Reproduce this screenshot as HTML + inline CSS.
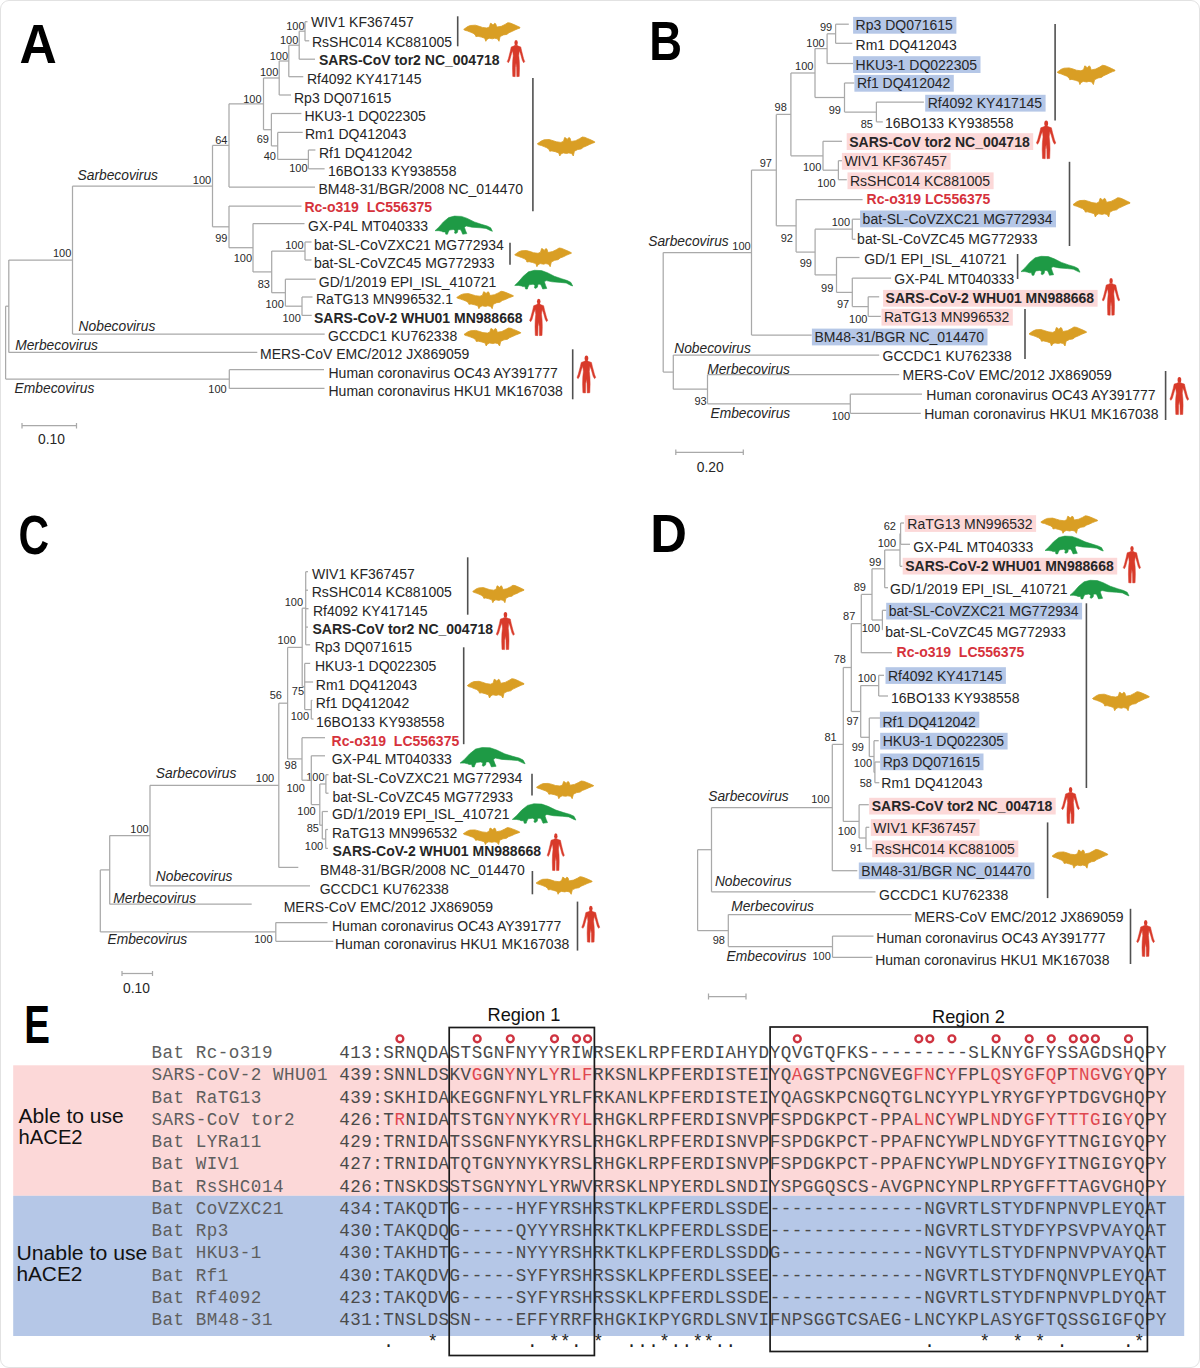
<!DOCTYPE html>
<html><head><meta charset="utf-8"><style>
html,body{margin:0;padding:0;background:#fff;}
body{width:1200px;height:1368px;overflow:hidden;position:relative;font-family:"Liberation Sans",sans-serif;}
#frame{position:absolute;left:0;top:0;width:1198px;height:1366px;border:1px solid #e2e2e2;border-radius:9px;}
svg{position:absolute;left:0;top:0;}
.mono{font-family:"Liberation Mono",monospace;}
</style></head><body><div id="frame"></div>
<svg width="1200" height="1368" viewBox="0 0 1200 1368" font-family="Liberation Sans, sans-serif">
<line x1="305.0" y1="21.7" x2="307.5" y2="21.7" stroke="#a9a9a9" stroke-width="1.25"/>
<line x1="305.0" y1="40.8" x2="309.2" y2="40.8" stroke="#a9a9a9" stroke-width="1.25"/>
<line x1="305.0" y1="21.7" x2="305.0" y2="40.8" stroke="#a9a9a9" stroke-width="1.25"/>
<text x="304.6" y="30.4" font-size="11" fill="#2a2a2a" text-anchor="end">100</text>
<line x1="299.2" y1="31.2" x2="305.0" y2="31.2" stroke="#a9a9a9" stroke-width="1.25"/>
<line x1="299.2" y1="59.2" x2="315.0" y2="59.2" stroke="#a9a9a9" stroke-width="1.25"/>
<line x1="299.2" y1="31.2" x2="299.2" y2="59.2" stroke="#a9a9a9" stroke-width="1.25"/>
<text x="298.3" y="43.8" font-size="11" fill="#2a2a2a" text-anchor="end">100</text>
<line x1="288.8" y1="45.2" x2="299.2" y2="45.2" stroke="#a9a9a9" stroke-width="1.25"/>
<line x1="288.8" y1="76.7" x2="303.3" y2="76.7" stroke="#a9a9a9" stroke-width="1.25"/>
<line x1="288.8" y1="45.2" x2="288.8" y2="76.7" stroke="#a9a9a9" stroke-width="1.25"/>
<text x="288.0" y="59.6" font-size="11" fill="#2a2a2a" text-anchor="end">100</text>
<line x1="279.2" y1="61.0" x2="288.8" y2="61.0" stroke="#a9a9a9" stroke-width="1.25"/>
<line x1="279.2" y1="95.0" x2="291.0" y2="95.0" stroke="#a9a9a9" stroke-width="1.25"/>
<line x1="279.2" y1="61.0" x2="279.2" y2="95.0" stroke="#a9a9a9" stroke-width="1.25"/>
<text x="278.3" y="76.2" font-size="11" fill="#2a2a2a" text-anchor="end">100</text>
<line x1="263.5" y1="78.0" x2="279.2" y2="78.0" stroke="#a9a9a9" stroke-width="1.25"/>
<line x1="271.4" y1="113.5" x2="301.4" y2="113.5" stroke="#a9a9a9" stroke-width="1.25"/>
<line x1="277.7" y1="132.4" x2="302.7" y2="132.4" stroke="#a9a9a9" stroke-width="1.25"/>
<line x1="308.4" y1="150.0" x2="315.4" y2="150.0" stroke="#a9a9a9" stroke-width="1.25"/>
<line x1="308.4" y1="168.8" x2="324.6" y2="168.8" stroke="#a9a9a9" stroke-width="1.25"/>
<line x1="308.4" y1="150.0" x2="308.4" y2="168.8" stroke="#a9a9a9" stroke-width="1.25"/>
<text x="307.5" y="172.3" font-size="11" fill="#2a2a2a" text-anchor="end">100</text>
<line x1="277.7" y1="159.4" x2="308.4" y2="159.4" stroke="#a9a9a9" stroke-width="1.25"/>
<line x1="277.7" y1="132.4" x2="277.7" y2="159.4" stroke="#a9a9a9" stroke-width="1.25"/>
<text x="276.0" y="159.6" font-size="11" fill="#2a2a2a" text-anchor="end">40</text>
<line x1="271.4" y1="145.9" x2="277.7" y2="145.9" stroke="#a9a9a9" stroke-width="1.25"/>
<line x1="271.4" y1="113.5" x2="271.4" y2="145.9" stroke="#a9a9a9" stroke-width="1.25"/>
<text x="269.0" y="142.9" font-size="11" fill="#2a2a2a" text-anchor="end">69</text>
<line x1="263.5" y1="129.7" x2="271.4" y2="129.7" stroke="#a9a9a9" stroke-width="1.25"/>
<line x1="263.5" y1="78.0" x2="263.5" y2="129.7" stroke="#a9a9a9" stroke-width="1.25"/>
<text x="261.5" y="102.5" font-size="11" fill="#2a2a2a" text-anchor="end">100</text>
<line x1="229.0" y1="103.8" x2="263.5" y2="103.8" stroke="#a9a9a9" stroke-width="1.25"/>
<line x1="229.0" y1="187.0" x2="315.0" y2="187.0" stroke="#a9a9a9" stroke-width="1.25"/>
<line x1="229.0" y1="103.8" x2="229.0" y2="187.0" stroke="#a9a9a9" stroke-width="1.25"/>
<text x="227.5" y="143.8" font-size="11" fill="#2a2a2a" text-anchor="end">64</text>
<line x1="212.5" y1="145.4" x2="229.0" y2="145.4" stroke="#a9a9a9" stroke-width="1.25"/>
<line x1="229.0" y1="206.0" x2="301.5" y2="206.0" stroke="#a9a9a9" stroke-width="1.25"/>
<line x1="253.0" y1="223.5" x2="304.5" y2="223.5" stroke="#a9a9a9" stroke-width="1.25"/>
<line x1="305.0" y1="242.0" x2="311.5" y2="242.0" stroke="#a9a9a9" stroke-width="1.25"/>
<line x1="305.0" y1="260.0" x2="311.5" y2="260.0" stroke="#a9a9a9" stroke-width="1.25"/>
<line x1="305.0" y1="242.0" x2="305.0" y2="260.0" stroke="#a9a9a9" stroke-width="1.25"/>
<text x="303.5" y="248.5" font-size="11" fill="#2a2a2a" text-anchor="end">100</text>
<line x1="271.7" y1="251.0" x2="305.0" y2="251.0" stroke="#a9a9a9" stroke-width="1.25"/>
<line x1="285.4" y1="279.2" x2="315.8" y2="279.2" stroke="#a9a9a9" stroke-width="1.25"/>
<line x1="302.0" y1="297.0" x2="312.5" y2="297.0" stroke="#a9a9a9" stroke-width="1.25"/>
<line x1="302.0" y1="315.4" x2="311.7" y2="315.4" stroke="#a9a9a9" stroke-width="1.25"/>
<line x1="302.0" y1="297.0" x2="302.0" y2="315.4" stroke="#a9a9a9" stroke-width="1.25"/>
<text x="300.8" y="322.0" font-size="11" fill="#2a2a2a" text-anchor="end">100</text>
<line x1="285.4" y1="306.2" x2="302.0" y2="306.2" stroke="#a9a9a9" stroke-width="1.25"/>
<line x1="285.4" y1="279.2" x2="285.4" y2="306.2" stroke="#a9a9a9" stroke-width="1.25"/>
<text x="283.8" y="307.5" font-size="11" fill="#2a2a2a" text-anchor="end">100</text>
<line x1="271.7" y1="292.7" x2="285.4" y2="292.7" stroke="#a9a9a9" stroke-width="1.25"/>
<line x1="271.7" y1="251.0" x2="271.7" y2="292.7" stroke="#a9a9a9" stroke-width="1.25"/>
<text x="270.0" y="287.5" font-size="11" fill="#2a2a2a" text-anchor="end">83</text>
<line x1="253.0" y1="271.9" x2="271.7" y2="271.9" stroke="#a9a9a9" stroke-width="1.25"/>
<line x1="253.0" y1="223.5" x2="253.0" y2="271.9" stroke="#a9a9a9" stroke-width="1.25"/>
<text x="252.0" y="262.0" font-size="11" fill="#2a2a2a" text-anchor="end">100</text>
<line x1="229.0" y1="247.7" x2="253.0" y2="247.7" stroke="#a9a9a9" stroke-width="1.25"/>
<line x1="229.0" y1="206.0" x2="229.0" y2="247.7" stroke="#a9a9a9" stroke-width="1.25"/>
<text x="227.5" y="242.0" font-size="11" fill="#2a2a2a" text-anchor="end">99</text>
<line x1="212.5" y1="226.8" x2="229.0" y2="226.8" stroke="#a9a9a9" stroke-width="1.25"/>
<line x1="212.5" y1="145.4" x2="212.5" y2="226.8" stroke="#a9a9a9" stroke-width="1.25"/>
<text x="211.2" y="183.8" font-size="11" fill="#2a2a2a" text-anchor="end">100</text>
<line x1="72.5" y1="186.1" x2="212.5" y2="186.1" stroke="#a9a9a9" stroke-width="1.25"/>
<line x1="72.5" y1="334.0" x2="324.7" y2="334.0" stroke="#a9a9a9" stroke-width="1.25"/>
<line x1="72.5" y1="186.1" x2="72.5" y2="334.0" stroke="#a9a9a9" stroke-width="1.25"/>
<text x="71.3" y="257.0" font-size="11" fill="#2a2a2a" text-anchor="end">100</text>
<line x1="8.8" y1="260.1" x2="72.5" y2="260.1" stroke="#a9a9a9" stroke-width="1.25"/>
<line x1="8.8" y1="352.4" x2="257.3" y2="352.4" stroke="#a9a9a9" stroke-width="1.25"/>
<line x1="8.8" y1="260.1" x2="8.8" y2="352.4" stroke="#a9a9a9" stroke-width="1.25"/>
<line x1="5.6" y1="306.2" x2="8.8" y2="306.2" stroke="#a9a9a9" stroke-width="1.25"/>
<line x1="229.3" y1="369.7" x2="324.0" y2="369.7" stroke="#a9a9a9" stroke-width="1.25"/>
<line x1="229.3" y1="388.4" x2="324.5" y2="388.4" stroke="#a9a9a9" stroke-width="1.25"/>
<line x1="229.3" y1="369.7" x2="229.3" y2="388.4" stroke="#a9a9a9" stroke-width="1.25"/>
<text x="226.7" y="392.7" font-size="11" fill="#2a2a2a" text-anchor="end">100</text>
<line x1="5.6" y1="379.0" x2="229.3" y2="379.0" stroke="#a9a9a9" stroke-width="1.25"/>
<line x1="5.6" y1="306.2" x2="5.6" y2="379.0" stroke="#a9a9a9" stroke-width="1.25"/>
<text x="311.0" y="27.2" font-size="14" fill="#262626">WIV1 KF367457</text>
<text x="312.0" y="46.7" font-size="14" fill="#262626">RsSHC014 KC881005</text>
<text x="319.0" y="64.5" font-size="14" fill="#262626" font-weight="bold">SARS-CoV tor2 NC_004718</text>
<text x="307.0" y="84.2" font-size="14" fill="#262626">Rf4092 KY417145</text>
<text x="294.0" y="102.5" font-size="14" fill="#262626">Rp3 DQ071615</text>
<text x="304.5" y="120.8" font-size="14" fill="#262626">HKU3-1 DQ022305</text>
<text x="305.0" y="139.2" font-size="14" fill="#262626">Rm1 DQ412043</text>
<text x="319.0" y="157.5" font-size="14" fill="#262626">Rf1 DQ412042</text>
<text x="328.0" y="175.8" font-size="14" fill="#262626">16BO133 KY938558</text>
<text x="318.4" y="194.4" font-size="14" fill="#262626">BM48-31/BGR/2008 NC_014470</text>
<text x="304.4" y="211.6" font-size="14" fill="#d6323c" font-weight="bold" xml:space="preserve">Rc-o319  LC556375</text>
<text x="308.0" y="231.0" font-size="14" fill="#262626">GX-P4L MT040333</text>
<text x="314.0" y="250.0" font-size="14" fill="#262626">bat-SL-CoVZXC21 MG772934</text>
<text x="314.0" y="267.5" font-size="14" fill="#262626">bat-SL-CoVZC45 MG772933</text>
<text x="318.8" y="286.9" font-size="14" fill="#262626">GD/1/2019 EPI_ISL_410721</text>
<text x="316.0" y="304.4" font-size="14" fill="#262626">RaTG13 MN996532.1</text>
<text x="314.0" y="322.5" font-size="14" fill="#262626" font-weight="bold">SARS-CoV-2 WHU01 MN988668</text>
<text x="328.0" y="340.6" font-size="14" fill="#262626">GCCDC1 KU762338</text>
<text x="260.0" y="359.4" font-size="14" fill="#262626">MERS-CoV EMC/2012 JX869059</text>
<text x="328.5" y="378.1" font-size="14" fill="#262626">Human coronavirus OC43 AY391777</text>
<text x="328.5" y="396.3" font-size="14" fill="#262626">Human coronavirus HKU1 MK167038</text>
<text x="77.5" y="179.5" font-size="13.8" fill="#262626" font-style="italic">Sarbecovirus</text>
<text x="78.6" y="330.6" font-size="13.8" fill="#262626" font-style="italic">Nobecovirus</text>
<text x="15.2" y="350.0" font-size="13.8" fill="#262626" font-style="italic">Merbecovirus</text>
<text x="14.6" y="392.6" font-size="13.8" fill="#262626" font-style="italic">Embecovirus</text>
<line x1="22.0" y1="425.7" x2="76.5" y2="425.7" stroke="#a9a9a9" stroke-width="1.25"/>
<line x1="22.0" y1="423.0" x2="22.0" y2="428.5" stroke="#a9a9a9" stroke-width="1.25"/>
<line x1="76.5" y1="423.0" x2="76.5" y2="428.5" stroke="#a9a9a9" stroke-width="1.25"/>
<text x="51.5" y="443.5" font-size="13.8" fill="#262626" text-anchor="middle">0.10</text>
<line x1="457.7" y1="16.3" x2="457.7" y2="46.3" stroke="#505050" stroke-width="1.6"/>
<line x1="532.9" y1="78.0" x2="532.9" y2="211.3" stroke="#505050" stroke-width="1.6"/>
<line x1="510.0" y1="242.7" x2="510.0" y2="264.7" stroke="#505050" stroke-width="1.6"/>
<line x1="572.7" y1="349.3" x2="572.7" y2="399.3" stroke="#505050" stroke-width="1.6"/>
<polygon points="463.7,29.4 467.6,26.6 470.3,25.5 475.3,25.2 479.2,26.3 482.4,27.4 486.9,28.0 489.4,26.9 490.4,23.3 491.8,23.8 493.0,25.2 494.6,23.3 495.7,23.8 496.8,27.1 501.3,26.3 505.1,24.4 507.8,22.7 510.1,23.0 512.8,24.1 516.7,25.8 520.0,27.4 520.0,28.0 517.8,28.8 515.0,29.9 512.3,31.3 509.0,32.7 506.8,34.4 503.4,34.9 500.1,36.6 499.0,41.3 497.4,38.8 494.6,38.2 492.4,38.8 489.1,38.2 486.9,39.4 485.8,41.3 484.7,38.2 481.4,37.1 478.1,36.3 475.9,36.6 475.3,34.9 473.1,33.2 470.3,32.1 467.6,31.0 464.8,30.2" fill="#d99e24" stroke="#d99e24" stroke-width="0.8" stroke-linejoin="round"/>
<polygon points="513.66,46.10 511.23,46.94 510.33,51.10 508.44,58.50 507.27,61.64 508.35,62.76 509.61,60.53 511.50,53.69 512.76,50.64 513.21,55.73 512.67,61.28 512.49,67.75 512.76,76.44 515.19,76.63 515.37,67.75 516.00,63.12 516.63,67.75 516.81,76.63 519.24,76.44 519.51,67.75 519.33,61.28 518.79,55.73 519.24,50.64 520.50,53.69 522.39,60.53 523.65,62.76 524.73,61.64 523.56,58.50 521.67,51.10 520.77,46.94 518.34,46.10 517.08,45.37 514.92,45.37" fill="#d83a2a" stroke="#d83a2a" stroke-width="0.5" stroke-linejoin="round"/>
<ellipse cx="516.09" cy="42.87" rx="1.71" ry="2.78" fill="#d83a2a"/>
<polygon points="537.3,143.8 541.3,141.0 544.1,139.8 549.1,139.5 553.1,140.7 556.4,141.8 560.9,142.4 563.5,141.3 564.6,137.6 566.0,138.1 567.1,139.5 568.8,137.6 570.0,138.1 571.1,141.5 575.6,140.7 579.5,138.7 582.3,137.0 584.6,137.3 587.4,138.4 591.3,140.1 594.7,141.8 594.7,142.4 592.5,143.2 589.6,144.4 586.8,145.8 583.4,147.2 581.2,148.9 577.8,149.5 574.4,151.2 573.3,156.0 571.6,153.5 568.8,152.9 566.6,153.5 563.2,152.9 560.9,154.0 559.8,156.0 558.7,152.9 555.3,151.7 551.9,150.9 549.7,151.2 549.1,149.5 546.9,147.8 544.1,146.6 541.3,145.5 538.4,144.7" fill="#d99e24" stroke="#d99e24" stroke-width="0.8" stroke-linejoin="round"/>
<polygon points="435.0,230.7 438.8,227.2 443.4,221.9 448.7,217.6 454.5,216.1 461.5,216.4 467.3,218.4 474.3,221.9 481.3,224.3 487.2,226.0 490.7,227.8 492.4,231.3 490.7,230.7 486.0,228.4 480.2,227.8 472.0,227.2 466.2,226.0 464.4,227.2 465.6,230.7 466.8,233.6 462.7,234.2 461.5,231.3 460.3,229.5 458.0,229.5 457.4,232.5 455.7,233.6 454.5,233.0 455.1,230.7 453.4,229.5 449.3,230.1 448.1,232.5 447.5,234.2 445.8,234.2 445.2,231.9 442.9,231.9 441.7,231.3 438.8,230.7" fill="#1e9a45" stroke="#1e9a45" stroke-width="0.6" stroke-linejoin="round"/>
<polygon points="514.7,254.7 518.6,251.9 521.4,250.8 526.4,250.5 530.3,251.6 533.5,252.7 538.0,253.3 540.5,252.2 541.6,248.6 543.0,249.1 544.1,250.5 545.8,248.6 546.9,249.1 548.0,252.5 552.5,251.6 556.3,249.7 559.1,248.0 561.3,248.3 564.1,249.4 568.0,251.1 571.3,252.7 571.3,253.3 569.1,254.1 566.3,255.3 563.5,256.7 560.2,258.0 558.0,259.7 554.7,260.3 551.3,262.0 550.2,266.7 548.5,264.2 545.8,263.6 543.6,264.2 540.2,263.6 538.0,264.8 536.9,266.7 535.8,263.6 532.5,262.5 529.1,261.7 526.9,262.0 526.4,260.3 524.2,258.6 521.4,257.5 518.6,256.4 515.8,255.5" fill="#d99e24" stroke="#d99e24" stroke-width="0.8" stroke-linejoin="round"/>
<polygon points="514.7,285.4 518.5,281.8 523.2,276.3 528.5,271.8 534.4,270.3 541.5,270.6 547.4,272.7 554.4,276.3 561.5,278.7 567.4,280.6 570.9,282.4 572.7,286.0 570.9,285.4 566.2,283.0 560.3,282.4 552.1,281.8 546.2,280.6 544.4,281.8 545.6,285.4 546.8,288.4 542.7,289.0 541.5,286.0 540.3,284.2 538.0,284.2 537.4,287.2 535.6,288.4 534.4,287.8 535.0,285.4 533.2,284.2 529.1,284.8 527.9,287.2 527.4,289.0 525.6,289.0 525.0,286.6 522.6,286.6 521.5,286.0 518.5,285.4" fill="#1e9a45" stroke="#1e9a45" stroke-width="0.6" stroke-linejoin="round"/>
<polygon points="456.7,297.5 460.6,294.9 463.4,293.9 468.4,293.6 472.3,294.7 475.5,295.7 480.0,296.2 482.5,295.2 483.6,291.8 485.0,292.3 486.1,293.6 487.8,291.8 488.9,292.3 490.0,295.5 494.5,294.7 498.3,292.9 501.1,291.3 503.3,291.6 506.1,292.6 510.0,294.2 513.3,295.7 513.3,296.2 511.1,297.0 508.3,298.1 505.5,299.4 502.2,300.6 500.0,302.2 496.7,302.7 493.3,304.3 492.2,308.7 490.5,306.4 487.8,305.8 485.6,306.4 482.2,305.8 480.0,306.9 478.9,308.7 477.8,305.8 474.5,304.8 471.1,304.0 468.9,304.3 468.4,302.7 466.2,301.2 463.4,300.1 460.6,299.1 457.8,298.3" fill="#d99e24" stroke="#d99e24" stroke-width="0.8" stroke-linejoin="round"/>
<polygon points="536.22,304.85 533.69,305.69 532.76,309.89 530.80,317.35 529.58,320.52 530.70,321.64 532.01,319.40 533.97,312.50 535.28,309.42 535.75,314.55 535.19,320.15 535.00,326.68 535.28,335.44 537.81,335.63 538.00,326.68 538.65,322.01 539.30,326.68 539.49,335.63 542.02,335.44 542.30,326.68 542.11,320.15 541.55,314.55 542.02,309.42 543.32,312.50 545.29,319.40 546.60,321.64 547.72,320.52 546.50,317.35 544.54,309.89 543.61,305.69 541.08,304.85 539.77,304.11 537.53,304.11" fill="#d83a2a" stroke="#d83a2a" stroke-width="0.5" stroke-linejoin="round"/>
<ellipse cx="538.74" cy="301.59" rx="1.78" ry="2.80" fill="#d83a2a"/>
<polygon points="464.0,334.4 467.9,331.8 470.7,330.7 475.7,330.4 479.6,331.5 482.9,332.6 487.4,333.1 489.9,332.0 490.9,328.5 492.4,329.1 493.5,330.4 495.1,328.5 496.3,329.1 497.3,332.3 501.8,331.5 505.7,329.6 508.5,328.0 510.7,328.3 513.5,329.4 517.4,331.0 520.7,332.6 520.7,333.1 518.5,333.9 515.7,335.0 512.9,336.3 509.6,337.7 507.4,339.3 504.0,339.8 500.7,341.4 499.6,346.0 497.9,343.6 495.1,343.0 492.9,343.6 489.6,343.0 487.4,344.1 486.2,346.0 485.1,343.0 481.8,342.0 478.5,341.2 476.2,341.4 475.7,339.8 473.5,338.2 470.7,337.1 467.9,336.1 465.1,335.3" fill="#d99e24" stroke="#d99e24" stroke-width="0.8" stroke-linejoin="round"/>
<polygon points="583.84,361.57 581.24,362.43 580.27,366.70 578.24,374.30 576.99,377.53 578.15,378.67 579.50,376.39 581.53,369.36 582.88,366.23 583.36,371.45 582.78,377.15 582.59,383.80 582.88,392.73 585.48,392.92 585.67,383.80 586.35,379.05 587.03,383.80 587.22,392.92 589.82,392.73 590.11,383.80 589.92,377.15 589.34,371.45 589.82,366.23 591.18,369.36 593.20,376.39 594.55,378.67 595.71,377.53 594.46,374.30 592.43,366.70 591.46,362.43 588.86,361.57 587.51,360.81 585.19,360.81" fill="#d83a2a" stroke="#d83a2a" stroke-width="0.5" stroke-linejoin="round"/>
<ellipse cx="586.45" cy="358.25" rx="1.83" ry="2.85" fill="#d83a2a"/>
<line x1="835.6" y1="24.2" x2="848.8" y2="24.2" stroke="#a9a9a9" stroke-width="1.25"/>
<line x1="835.6" y1="43.3" x2="852.3" y2="43.3" stroke="#a9a9a9" stroke-width="1.25"/>
<line x1="835.6" y1="24.2" x2="835.6" y2="43.3" stroke="#a9a9a9" stroke-width="1.25"/>
<text x="832.2" y="31.2" font-size="11" fill="#2a2a2a" text-anchor="end">99</text>
<line x1="827.1" y1="33.8" x2="835.6" y2="33.8" stroke="#a9a9a9" stroke-width="1.25"/>
<line x1="827.1" y1="63.5" x2="853.0" y2="63.5" stroke="#a9a9a9" stroke-width="1.25"/>
<line x1="827.1" y1="33.8" x2="827.1" y2="63.5" stroke="#a9a9a9" stroke-width="1.25"/>
<text x="824.7" y="46.5" font-size="11" fill="#2a2a2a" text-anchor="end">100</text>
<line x1="815.0" y1="48.6" x2="827.1" y2="48.6" stroke="#a9a9a9" stroke-width="1.25"/>
<line x1="844.5" y1="83.0" x2="854.4" y2="83.0" stroke="#a9a9a9" stroke-width="1.25"/>
<line x1="876.4" y1="102.0" x2="923.9" y2="102.0" stroke="#a9a9a9" stroke-width="1.25"/>
<line x1="876.4" y1="121.9" x2="882.8" y2="121.9" stroke="#a9a9a9" stroke-width="1.25"/>
<line x1="876.4" y1="102.0" x2="876.4" y2="121.9" stroke="#a9a9a9" stroke-width="1.25"/>
<text x="872.9" y="128.3" font-size="11" fill="#2a2a2a" text-anchor="end">85</text>
<line x1="844.5" y1="112.0" x2="876.4" y2="112.0" stroke="#a9a9a9" stroke-width="1.25"/>
<line x1="844.5" y1="83.0" x2="844.5" y2="112.0" stroke="#a9a9a9" stroke-width="1.25"/>
<text x="841.0" y="113.9" font-size="11" fill="#2a2a2a" text-anchor="end">99</text>
<line x1="815.0" y1="97.5" x2="844.5" y2="97.5" stroke="#a9a9a9" stroke-width="1.25"/>
<line x1="815.0" y1="48.6" x2="815.0" y2="97.5" stroke="#a9a9a9" stroke-width="1.25"/>
<text x="813.4" y="70.2" font-size="11" fill="#2a2a2a" text-anchor="end">100</text>
<line x1="790.9" y1="73.0" x2="815.0" y2="73.0" stroke="#a9a9a9" stroke-width="1.25"/>
<line x1="823.0" y1="141.3" x2="842.0" y2="141.3" stroke="#a9a9a9" stroke-width="1.25"/>
<line x1="838.4" y1="160.7" x2="842.8" y2="160.7" stroke="#a9a9a9" stroke-width="1.25"/>
<line x1="838.4" y1="179.7" x2="846.8" y2="179.7" stroke="#a9a9a9" stroke-width="1.25"/>
<line x1="838.4" y1="160.7" x2="838.4" y2="179.7" stroke="#a9a9a9" stroke-width="1.25"/>
<text x="835.5" y="186.6" font-size="11" fill="#2a2a2a" text-anchor="end">100</text>
<line x1="823.0" y1="170.2" x2="838.4" y2="170.2" stroke="#a9a9a9" stroke-width="1.25"/>
<line x1="823.0" y1="141.3" x2="823.0" y2="170.2" stroke="#a9a9a9" stroke-width="1.25"/>
<text x="821.3" y="171.4" font-size="11" fill="#2a2a2a" text-anchor="end">100</text>
<line x1="790.9" y1="155.8" x2="823.0" y2="155.8" stroke="#a9a9a9" stroke-width="1.25"/>
<line x1="790.9" y1="73.0" x2="790.9" y2="155.8" stroke="#a9a9a9" stroke-width="1.25"/>
<text x="786.8" y="111.2" font-size="11" fill="#2a2a2a" text-anchor="end">98</text>
<line x1="776.3" y1="114.4" x2="790.9" y2="114.4" stroke="#a9a9a9" stroke-width="1.25"/>
<line x1="796.1" y1="199.5" x2="862.6" y2="199.5" stroke="#a9a9a9" stroke-width="1.25"/>
<line x1="852.3" y1="219.2" x2="860.2" y2="219.2" stroke="#a9a9a9" stroke-width="1.25"/>
<line x1="852.3" y1="239.3" x2="855.5" y2="239.3" stroke="#a9a9a9" stroke-width="1.25"/>
<line x1="852.3" y1="219.2" x2="852.3" y2="239.3" stroke="#a9a9a9" stroke-width="1.25"/>
<text x="850.0" y="226.4" font-size="11" fill="#2a2a2a" text-anchor="end">100</text>
<line x1="815.1" y1="229.2" x2="852.3" y2="229.2" stroke="#a9a9a9" stroke-width="1.25"/>
<line x1="836.5" y1="257.5" x2="859.5" y2="257.5" stroke="#a9a9a9" stroke-width="1.25"/>
<line x1="852.3" y1="278.1" x2="891.1" y2="278.1" stroke="#a9a9a9" stroke-width="1.25"/>
<line x1="868.2" y1="296.8" x2="879.2" y2="296.8" stroke="#a9a9a9" stroke-width="1.25"/>
<line x1="868.2" y1="316.4" x2="880.8" y2="316.4" stroke="#a9a9a9" stroke-width="1.25"/>
<line x1="868.2" y1="296.8" x2="868.2" y2="316.4" stroke="#a9a9a9" stroke-width="1.25"/>
<text x="867.4" y="322.7" font-size="11" fill="#2a2a2a" text-anchor="end">100</text>
<line x1="852.3" y1="306.6" x2="868.2" y2="306.6" stroke="#a9a9a9" stroke-width="1.25"/>
<line x1="852.3" y1="278.1" x2="852.3" y2="306.6" stroke="#a9a9a9" stroke-width="1.25"/>
<text x="849.2" y="308.2" font-size="11" fill="#2a2a2a" text-anchor="end">97</text>
<line x1="836.5" y1="292.4" x2="852.3" y2="292.4" stroke="#a9a9a9" stroke-width="1.25"/>
<line x1="836.5" y1="257.5" x2="836.5" y2="292.4" stroke="#a9a9a9" stroke-width="1.25"/>
<text x="833.3" y="291.5" font-size="11" fill="#2a2a2a" text-anchor="end">99</text>
<line x1="815.1" y1="274.9" x2="836.5" y2="274.9" stroke="#a9a9a9" stroke-width="1.25"/>
<line x1="815.1" y1="229.2" x2="815.1" y2="274.9" stroke="#a9a9a9" stroke-width="1.25"/>
<text x="812.0" y="267.0" font-size="11" fill="#2a2a2a" text-anchor="end">99</text>
<line x1="796.1" y1="252.1" x2="815.1" y2="252.1" stroke="#a9a9a9" stroke-width="1.25"/>
<line x1="796.1" y1="199.5" x2="796.1" y2="252.1" stroke="#a9a9a9" stroke-width="1.25"/>
<text x="793.0" y="241.7" font-size="11" fill="#2a2a2a" text-anchor="end">92</text>
<line x1="776.3" y1="225.8" x2="796.1" y2="225.8" stroke="#a9a9a9" stroke-width="1.25"/>
<line x1="776.3" y1="114.4" x2="776.3" y2="225.8" stroke="#a9a9a9" stroke-width="1.25"/>
<text x="772.0" y="167.0" font-size="11" fill="#2a2a2a" text-anchor="end">97</text>
<line x1="751.5" y1="170.1" x2="776.3" y2="170.1" stroke="#a9a9a9" stroke-width="1.25"/>
<line x1="751.5" y1="335.0" x2="811.7" y2="335.0" stroke="#a9a9a9" stroke-width="1.25"/>
<line x1="751.5" y1="170.1" x2="751.5" y2="335.0" stroke="#a9a9a9" stroke-width="1.25"/>
<text x="750.7" y="249.8" font-size="11" fill="#2a2a2a" text-anchor="end">100</text>
<line x1="663.2" y1="252.5" x2="751.5" y2="252.5" stroke="#a9a9a9" stroke-width="1.25"/>
<line x1="673.3" y1="355.0" x2="879.2" y2="355.0" stroke="#a9a9a9" stroke-width="1.25"/>
<line x1="707.5" y1="374.7" x2="899.2" y2="374.7" stroke="#a9a9a9" stroke-width="1.25"/>
<line x1="850.3" y1="394.2" x2="922.0" y2="394.2" stroke="#a9a9a9" stroke-width="1.25"/>
<line x1="850.3" y1="413.3" x2="920.8" y2="413.3" stroke="#a9a9a9" stroke-width="1.25"/>
<line x1="850.3" y1="394.2" x2="850.3" y2="413.3" stroke="#a9a9a9" stroke-width="1.25"/>
<text x="850.0" y="419.7" font-size="11" fill="#2a2a2a" text-anchor="end">100</text>
<line x1="707.5" y1="403.8" x2="850.3" y2="403.8" stroke="#a9a9a9" stroke-width="1.25"/>
<line x1="707.5" y1="374.7" x2="707.5" y2="403.8" stroke="#a9a9a9" stroke-width="1.25"/>
<text x="706.7" y="404.7" font-size="11" fill="#2a2a2a" text-anchor="end">93</text>
<line x1="673.3" y1="389.2" x2="707.5" y2="389.2" stroke="#a9a9a9" stroke-width="1.25"/>
<line x1="673.3" y1="355.0" x2="673.3" y2="389.2" stroke="#a9a9a9" stroke-width="1.25"/>
<line x1="663.2" y1="372.1" x2="673.3" y2="372.1" stroke="#a9a9a9" stroke-width="1.25"/>
<line x1="663.2" y1="252.5" x2="663.2" y2="372.1" stroke="#a9a9a9" stroke-width="1.25"/>
<rect x="853.1" y="16.9" width="103.3" height="16.8" fill="#b5c7e7"/>
<rect x="853.1" y="56.2" width="127.4" height="16.8" fill="#b5c7e7"/>
<rect x="854.4" y="74.9" width="99.4" height="16.8" fill="#b5c7e7"/>
<rect x="925.2" y="94.8" width="120.4" height="16.8" fill="#b5c7e7"/>
<rect x="846.7" y="133.2" width="186.5" height="16.8" fill="#fcd8d8"/>
<rect x="841.9" y="152.9" width="108.7" height="16.8" fill="#fcd8d8"/>
<rect x="847.5" y="172.4" width="146.1" height="16.8" fill="#fcd8d8"/>
<rect x="860.1" y="210.5" width="195.9" height="16.8" fill="#b5c7e7"/>
<rect x="883.1" y="289.9" width="214.5" height="16.8" fill="#fcd8d8"/>
<rect x="881.5" y="308.8" width="131.3" height="16.8" fill="#fcd8d8"/>
<rect x="811.9" y="328.6" width="175.6" height="16.8" fill="#b5c7e7"/>
<text x="855.6" y="30.3" font-size="14" fill="#262626">Rp3 DQ071615</text>
<text x="855.6" y="50.2" font-size="14" fill="#262626">Rm1 DQ412043</text>
<text x="855.6" y="69.6" font-size="14" fill="#262626">HKU3-1 DQ022305</text>
<text x="856.9" y="88.3" font-size="14" fill="#262626">Rf1 DQ412042</text>
<text x="927.7" y="108.2" font-size="14" fill="#262626">Rf4092 KY417145</text>
<text x="885.0" y="127.9" font-size="14" fill="#262626">16BO133 KY938558</text>
<text x="849.2" y="146.6" font-size="14" fill="#262626" font-weight="bold">SARS-CoV tor2 NC_004718</text>
<text x="844.4" y="166.3" font-size="14" fill="#262626">WIV1 KF367457</text>
<text x="850.0" y="185.8" font-size="14" fill="#262626">RsSHC014 KC881005</text>
<text x="866.6" y="204.4" font-size="14" fill="#d6323c" font-weight="bold">Rc-o319 LC556375</text>
<text x="862.6" y="223.9" font-size="14" fill="#262626">bat-SL-CoVZXC21 MG772934</text>
<text x="857.1" y="244.0" font-size="14" fill="#262626">bat-SL-CoVZC45 MG772933</text>
<text x="864.2" y="263.8" font-size="14" fill="#262626">GD/1 EPI_ISL_410721</text>
<text x="894.3" y="283.6" font-size="14" fill="#262626">GX-P4L MT040333</text>
<text x="885.6" y="303.3" font-size="14" fill="#262626" font-weight="bold">SARS-CoV-2 WHU01 MN988668</text>
<text x="884.0" y="322.2" font-size="14" fill="#262626">RaTG13 MN996532</text>
<text x="814.4" y="342.0" font-size="14" fill="#262626">BM48-31/BGR NC_014470</text>
<text x="882.5" y="360.8" font-size="14" fill="#262626">GCCDC1 KU762338</text>
<text x="902.5" y="380.3" font-size="14" fill="#262626">MERS-CoV EMC/2012 JX869059</text>
<text x="926.3" y="400.0" font-size="14" fill="#262626">Human coronavirus OC43 AY391777</text>
<text x="924.2" y="419.2" font-size="14" fill="#262626">Human coronavirus HKU1 MK167038</text>
<text x="648.2" y="246.2" font-size="13.8" fill="#262626" font-style="italic">Sarbecovirus</text>
<text x="674.2" y="352.7" font-size="13.8" fill="#262626" font-style="italic">Nobecovirus</text>
<text x="707.2" y="373.7" font-size="13.8" fill="#262626" font-style="italic">Merbecovirus</text>
<text x="710.5" y="417.5" font-size="13.8" fill="#262626" font-style="italic">Embecovirus</text>
<line x1="675.8" y1="452.3" x2="743.3" y2="452.3" stroke="#a9a9a9" stroke-width="1.25"/>
<line x1="675.8" y1="449.5" x2="675.8" y2="455.0" stroke="#a9a9a9" stroke-width="1.25"/>
<line x1="743.3" y1="449.5" x2="743.3" y2="455.0" stroke="#a9a9a9" stroke-width="1.25"/>
<text x="710.2" y="472.1" font-size="13.8" fill="#262626" text-anchor="middle">0.20</text>
<line x1="1055.1" y1="24.0" x2="1055.1" y2="120.5" stroke="#505050" stroke-width="1.6"/>
<line x1="1069.5" y1="161.8" x2="1069.5" y2="246.0" stroke="#505050" stroke-width="1.6"/>
<line x1="1017.6" y1="254.0" x2="1017.6" y2="279.0" stroke="#505050" stroke-width="1.6"/>
<line x1="1025.0" y1="309.0" x2="1025.0" y2="359.0" stroke="#505050" stroke-width="1.6"/>
<line x1="1165.6" y1="371.0" x2="1165.6" y2="420.0" stroke="#505050" stroke-width="1.6"/>
<polygon points="1057.2,72.2 1061.2,69.3 1064.0,68.2 1069.1,67.9 1073.1,69.0 1076.4,70.2 1081.0,70.8 1083.6,69.6 1084.7,65.9 1086.1,66.5 1087.3,67.9 1088.9,65.9 1090.1,66.5 1091.2,69.9 1095.8,69.0 1099.7,67.0 1102.5,65.3 1104.8,65.6 1107.7,66.7 1111.6,68.5 1115.0,70.2 1115.0,70.8 1112.7,71.6 1109.9,72.8 1107.1,74.2 1103.7,75.7 1101.4,77.4 1098.0,78.0 1094.6,79.7 1093.4,84.6 1091.8,82.0 1088.9,81.4 1086.7,82.0 1083.3,81.4 1081.0,82.6 1079.9,84.6 1078.8,81.4 1075.3,80.3 1071.9,79.4 1069.7,79.7 1069.1,78.0 1066.9,76.2 1064.0,75.1 1061.2,73.9 1058.4,73.1" fill="#d99e24" stroke="#d99e24" stroke-width="0.8" stroke-linejoin="round"/>
<polygon points="1043.50,126.87 1040.80,127.74 1039.80,132.08 1037.70,139.80 1036.40,143.08 1037.60,144.24 1039.00,141.92 1041.10,134.78 1042.50,131.60 1043.00,136.91 1042.40,142.69 1042.20,149.45 1042.50,158.52 1045.20,158.71 1045.40,149.45 1046.10,144.62 1046.80,149.45 1047.00,158.71 1049.70,158.52 1050.00,149.45 1049.80,142.69 1049.20,136.91 1049.70,131.60 1051.10,134.78 1053.20,141.92 1054.60,144.24 1055.80,143.08 1054.50,139.80 1052.40,132.08 1051.40,127.74 1048.70,126.87 1047.30,126.10 1044.90,126.10" fill="#d83a2a" stroke="#d83a2a" stroke-width="0.5" stroke-linejoin="round"/>
<ellipse cx="1046.20" cy="123.49" rx="1.90" ry="2.90" fill="#d83a2a"/>
<polygon points="1073.0,204.6 1076.9,201.7 1079.7,200.6 1084.7,200.3 1088.7,201.4 1092.0,202.6 1096.5,203.2 1099.0,202.0 1100.1,198.3 1101.5,198.9 1102.6,200.3 1104.3,198.3 1105.4,198.9 1106.5,202.3 1111.0,201.4 1114.9,199.4 1117.7,197.7 1120.0,198.0 1122.8,199.1 1126.6,200.9 1130.0,202.6 1130.0,203.2 1127.8,204.0 1125.0,205.2 1122.2,206.6 1118.8,208.1 1116.6,209.8 1113.2,210.4 1109.9,212.1 1108.7,217.0 1107.1,214.4 1104.3,213.8 1102.1,214.4 1098.7,213.8 1096.5,215.0 1095.3,217.0 1094.3,213.8 1090.9,212.7 1087.5,211.8 1085.3,212.1 1084.7,210.4 1082.5,208.6 1079.7,207.5 1076.9,206.3 1074.1,205.5" fill="#d99e24" stroke="#d99e24" stroke-width="0.8" stroke-linejoin="round"/>
<polygon points="1021.0,271.6 1024.9,267.9 1029.7,262.4 1035.1,257.8 1041.1,256.3 1048.3,256.6 1054.2,258.8 1061.4,262.4 1068.6,264.9 1074.6,266.7 1078.2,268.6 1080.0,272.2 1078.2,271.6 1073.4,269.2 1067.4,268.6 1059.0,267.9 1053.0,266.7 1051.2,267.9 1052.4,271.6 1053.6,274.7 1049.5,275.3 1048.3,272.2 1047.1,270.4 1044.7,270.4 1044.1,273.5 1042.3,274.7 1041.1,274.1 1041.7,271.6 1039.9,270.4 1035.7,271.0 1034.5,273.5 1033.9,275.3 1032.1,275.3 1031.5,272.8 1029.1,272.8 1027.9,272.2 1024.9,271.6" fill="#1e9a45" stroke="#1e9a45" stroke-width="0.6" stroke-linejoin="round"/>
<polygon points="1108.66,284.20 1106.23,285.05 1105.33,289.28 1103.44,296.80 1102.27,300.00 1103.35,301.12 1104.61,298.87 1106.50,291.91 1107.76,288.81 1108.21,293.98 1107.67,299.62 1107.49,306.20 1107.76,315.04 1110.19,315.22 1110.37,306.20 1111.00,301.50 1111.63,306.20 1111.81,315.22 1114.24,315.04 1114.51,306.20 1114.33,299.62 1113.79,293.98 1114.24,288.81 1115.50,291.91 1117.39,298.87 1118.65,301.12 1119.73,300.00 1118.56,296.80 1116.67,289.28 1115.77,285.05 1113.34,284.20 1112.08,283.45 1109.92,283.45" fill="#d83a2a" stroke="#d83a2a" stroke-width="0.5" stroke-linejoin="round"/>
<ellipse cx="1111.09" cy="280.91" rx="1.71" ry="2.82" fill="#d83a2a"/>
<polygon points="1029.0,333.8 1033.0,331.0 1035.8,329.8 1040.8,329.5 1044.8,330.7 1048.1,331.8 1052.6,332.4 1055.2,331.3 1056.3,327.6 1057.7,328.1 1058.8,329.5 1060.5,327.6 1061.7,328.1 1062.8,331.5 1067.3,330.7 1071.2,328.7 1074.0,327.0 1076.3,327.3 1079.1,328.4 1083.0,330.1 1086.4,331.8 1086.4,332.4 1084.2,333.2 1081.3,334.4 1078.5,335.8 1075.1,337.2 1072.9,338.9 1069.5,339.5 1066.1,341.2 1065.0,346.0 1063.3,343.5 1060.5,342.9 1058.3,343.5 1054.9,342.9 1052.6,344.0 1051.5,346.0 1050.4,342.9 1047.0,341.7 1043.6,340.9 1041.4,341.2 1040.8,339.5 1038.6,337.8 1035.8,336.6 1033.0,335.5 1030.1,334.7" fill="#d99e24" stroke="#d99e24" stroke-width="0.8" stroke-linejoin="round"/>
<polygon points="1176.78,383.27 1174.16,384.12 1173.19,388.40 1171.15,396.00 1169.89,399.23 1171.05,400.37 1172.41,398.09 1174.45,391.06 1175.81,387.93 1176.29,393.15 1175.71,398.85 1175.52,405.50 1175.81,414.43 1178.43,414.62 1178.62,405.50 1179.30,400.75 1179.98,405.50 1180.17,414.62 1182.79,414.43 1183.08,405.50 1182.89,398.85 1182.31,393.15 1182.79,387.93 1184.15,391.06 1186.19,398.09 1187.54,400.37 1188.71,399.23 1187.45,396.00 1185.41,388.40 1184.44,384.12 1181.82,383.27 1180.46,382.51 1178.14,382.51" fill="#d83a2a" stroke="#d83a2a" stroke-width="0.5" stroke-linejoin="round"/>
<ellipse cx="1179.40" cy="379.94" rx="1.84" ry="2.85" fill="#d83a2a"/>
<line x1="305.7" y1="571.7" x2="308.0" y2="571.7" stroke="#a9a9a9" stroke-width="1.25"/>
<line x1="305.7" y1="590.2" x2="308.0" y2="590.2" stroke="#a9a9a9" stroke-width="1.25"/>
<line x1="305.7" y1="608.7" x2="308.5" y2="608.7" stroke="#a9a9a9" stroke-width="1.25"/>
<line x1="305.7" y1="627.1" x2="308.0" y2="627.1" stroke="#a9a9a9" stroke-width="1.25"/>
<line x1="305.7" y1="644.8" x2="310.1" y2="644.8" stroke="#a9a9a9" stroke-width="1.25"/>
<line x1="305.7" y1="571.7" x2="305.7" y2="644.8" stroke="#a9a9a9" stroke-width="1.25"/>
<text x="303.1" y="606.0" font-size="11" fill="#2a2a2a" text-anchor="end">100</text>
<line x1="302.2" y1="608.2" x2="305.7" y2="608.2" stroke="#a9a9a9" stroke-width="1.25"/>
<line x1="304.7" y1="663.4" x2="310.2" y2="663.4" stroke="#a9a9a9" stroke-width="1.25"/>
<line x1="304.7" y1="682.0" x2="313.1" y2="682.0" stroke="#a9a9a9" stroke-width="1.25"/>
<line x1="311.3" y1="700.3" x2="312.4" y2="700.3" stroke="#a9a9a9" stroke-width="1.25"/>
<line x1="311.3" y1="719.0" x2="313.5" y2="719.0" stroke="#a9a9a9" stroke-width="1.25"/>
<line x1="311.3" y1="700.3" x2="311.3" y2="719.0" stroke="#a9a9a9" stroke-width="1.25"/>
<text x="309.0" y="719.6" font-size="11" fill="#2a2a2a" text-anchor="end">100</text>
<line x1="304.7" y1="709.6" x2="311.3" y2="709.6" stroke="#a9a9a9" stroke-width="1.25"/>
<line x1="304.7" y1="663.4" x2="304.7" y2="709.6" stroke="#a9a9a9" stroke-width="1.25"/>
<text x="304.1" y="695.2" font-size="11" fill="#2a2a2a" text-anchor="end">75</text>
<line x1="302.2" y1="686.5" x2="304.7" y2="686.5" stroke="#a9a9a9" stroke-width="1.25"/>
<line x1="302.2" y1="608.2" x2="302.2" y2="686.5" stroke="#a9a9a9" stroke-width="1.25"/>
<text x="295.8" y="644.4" font-size="11" fill="#2a2a2a" text-anchor="end">100</text>
<line x1="287.6" y1="647.4" x2="302.2" y2="647.4" stroke="#a9a9a9" stroke-width="1.25"/>
<line x1="302.0" y1="737.7" x2="325.0" y2="737.7" stroke="#a9a9a9" stroke-width="1.25"/>
<line x1="311.3" y1="755.8" x2="325.0" y2="755.8" stroke="#a9a9a9" stroke-width="1.25"/>
<line x1="325.9" y1="774.7" x2="328.5" y2="774.7" stroke="#a9a9a9" stroke-width="1.25"/>
<line x1="325.9" y1="793.2" x2="328.5" y2="793.2" stroke="#a9a9a9" stroke-width="1.25"/>
<line x1="325.9" y1="774.7" x2="325.9" y2="793.2" stroke="#a9a9a9" stroke-width="1.25"/>
<text x="324.5" y="781.0" font-size="11" fill="#2a2a2a" text-anchor="end">100</text>
<line x1="319.8" y1="784.0" x2="325.9" y2="784.0" stroke="#a9a9a9" stroke-width="1.25"/>
<line x1="322.3" y1="811.5" x2="327.9" y2="811.5" stroke="#a9a9a9" stroke-width="1.25"/>
<line x1="325.7" y1="829.5" x2="327.9" y2="829.5" stroke="#a9a9a9" stroke-width="1.25"/>
<line x1="325.7" y1="848.4" x2="327.9" y2="848.4" stroke="#a9a9a9" stroke-width="1.25"/>
<line x1="325.7" y1="829.5" x2="325.7" y2="848.4" stroke="#a9a9a9" stroke-width="1.25"/>
<text x="323.2" y="850.0" font-size="11" fill="#2a2a2a" text-anchor="end">100</text>
<line x1="322.3" y1="839.0" x2="325.7" y2="839.0" stroke="#a9a9a9" stroke-width="1.25"/>
<line x1="322.3" y1="811.5" x2="322.3" y2="839.0" stroke="#a9a9a9" stroke-width="1.25"/>
<text x="318.9" y="832.3" font-size="11" fill="#2a2a2a" text-anchor="end">85</text>
<line x1="319.8" y1="825.2" x2="322.3" y2="825.2" stroke="#a9a9a9" stroke-width="1.25"/>
<line x1="319.8" y1="784.0" x2="319.8" y2="825.2" stroke="#a9a9a9" stroke-width="1.25"/>
<text x="315.7" y="814.9" font-size="11" fill="#2a2a2a" text-anchor="end">100</text>
<line x1="311.3" y1="804.6" x2="319.8" y2="804.6" stroke="#a9a9a9" stroke-width="1.25"/>
<line x1="311.3" y1="755.8" x2="311.3" y2="804.6" stroke="#a9a9a9" stroke-width="1.25"/>
<text x="304.8" y="792.3" font-size="11" fill="#2a2a2a" text-anchor="end">100</text>
<line x1="302.0" y1="780.2" x2="311.3" y2="780.2" stroke="#a9a9a9" stroke-width="1.25"/>
<line x1="302.0" y1="737.7" x2="302.0" y2="780.2" stroke="#a9a9a9" stroke-width="1.25"/>
<text x="296.8" y="768.6" font-size="11" fill="#2a2a2a" text-anchor="end">98</text>
<line x1="287.6" y1="758.9" x2="302.0" y2="758.9" stroke="#a9a9a9" stroke-width="1.25"/>
<line x1="287.6" y1="647.4" x2="287.6" y2="758.9" stroke="#a9a9a9" stroke-width="1.25"/>
<text x="282.0" y="699.0" font-size="11" fill="#2a2a2a" text-anchor="end">56</text>
<line x1="278.8" y1="703.2" x2="287.6" y2="703.2" stroke="#a9a9a9" stroke-width="1.25"/>
<line x1="278.8" y1="867.4" x2="298.3" y2="867.4" stroke="#a9a9a9" stroke-width="1.25"/>
<line x1="278.8" y1="703.2" x2="278.8" y2="867.4" stroke="#a9a9a9" stroke-width="1.25"/>
<text x="274.2" y="782.0" font-size="11" fill="#2a2a2a" text-anchor="end">100</text>
<line x1="150.0" y1="785.3" x2="278.8" y2="785.3" stroke="#a9a9a9" stroke-width="1.25"/>
<line x1="150.0" y1="885.8" x2="310.0" y2="885.8" stroke="#a9a9a9" stroke-width="1.25"/>
<line x1="150.0" y1="785.3" x2="150.0" y2="885.8" stroke="#a9a9a9" stroke-width="1.25"/>
<text x="148.7" y="832.5" font-size="11" fill="#2a2a2a" text-anchor="end">100</text>
<line x1="109.7" y1="835.5" x2="150.0" y2="835.5" stroke="#a9a9a9" stroke-width="1.25"/>
<line x1="109.7" y1="904.2" x2="251.7" y2="904.2" stroke="#a9a9a9" stroke-width="1.25"/>
<line x1="109.7" y1="835.5" x2="109.7" y2="904.2" stroke="#a9a9a9" stroke-width="1.25"/>
<line x1="100.3" y1="869.9" x2="109.7" y2="869.9" stroke="#a9a9a9" stroke-width="1.25"/>
<line x1="275.8" y1="922.5" x2="327.5" y2="922.5" stroke="#a9a9a9" stroke-width="1.25"/>
<line x1="275.8" y1="941.3" x2="333.3" y2="941.3" stroke="#a9a9a9" stroke-width="1.25"/>
<line x1="275.8" y1="922.5" x2="275.8" y2="941.3" stroke="#a9a9a9" stroke-width="1.25"/>
<text x="272.5" y="943.0" font-size="11" fill="#2a2a2a" text-anchor="end">100</text>
<line x1="100.3" y1="931.9" x2="275.8" y2="931.9" stroke="#a9a9a9" stroke-width="1.25"/>
<line x1="100.3" y1="869.9" x2="100.3" y2="931.9" stroke="#a9a9a9" stroke-width="1.25"/>
<text x="312.0" y="579.0" font-size="14" fill="#262626">WIV1 KF367457</text>
<text x="311.7" y="597.4" font-size="14" fill="#262626">RsSHC014 KC881005</text>
<text x="313.0" y="616.3" font-size="14" fill="#262626">Rf4092 KY417145</text>
<text x="312.5" y="633.7" font-size="14" fill="#262626" font-weight="bold">SARS-CoV tor2 NC_004718</text>
<text x="314.7" y="652.3" font-size="14" fill="#262626">Rp3 DQ071615</text>
<text x="314.9" y="671.4" font-size="14" fill="#262626">HKU3-1 DQ022305</text>
<text x="315.8" y="690.1" font-size="14" fill="#262626">Rm1 DQ412043</text>
<text x="315.8" y="708.2" font-size="14" fill="#262626">Rf1 DQ412042</text>
<text x="316.0" y="726.6" font-size="14" fill="#262626">16BO133 KY938558</text>
<text x="331.6" y="745.8" font-size="14" fill="#d6323c" font-weight="bold" xml:space="preserve">Rc-o319  LC556375</text>
<text x="331.7" y="764.2" font-size="14" fill="#262626">GX-P4L MT040333</text>
<text x="332.5" y="783.3" font-size="14" fill="#262626">bat-SL-CoVZXC21 MG772934</text>
<text x="332.5" y="801.7" font-size="14" fill="#262626">bat-SL-CoVZC45 MG772933</text>
<text x="332.0" y="819.2" font-size="14" fill="#262626">GD/1/2019 EPI_ISL_410721</text>
<text x="332.0" y="837.5" font-size="14" fill="#262626">RaTG13 MN996532</text>
<text x="332.5" y="855.8" font-size="14" fill="#262626" font-weight="bold">SARS-CoV-2 WHU01 MN988668</text>
<text x="320.0" y="875.3" font-size="14" fill="#262626">BM48-31/BGR/2008 NC_014470</text>
<text x="319.7" y="893.7" font-size="14" fill="#262626">GCCDC1 KU762338</text>
<text x="283.7" y="911.7" font-size="14" fill="#262626">MERS-CoV EMC/2012 JX869059</text>
<text x="332.0" y="930.8" font-size="14" fill="#262626">Human coronavirus OC43 AY391777</text>
<text x="335.0" y="949.2" font-size="14" fill="#262626">Human coronavirus HKU1 MK167038</text>
<text x="155.8" y="777.5" font-size="13.8" fill="#262626" font-style="italic">Sarbecovirus</text>
<text x="155.8" y="881.3" font-size="13.8" fill="#262626" font-style="italic">Nobecovirus</text>
<text x="113.3" y="902.5" font-size="13.8" fill="#262626" font-style="italic">Merbecovirus</text>
<text x="107.5" y="944.2" font-size="13.8" fill="#262626" font-style="italic">Embecovirus</text>
<line x1="122.0" y1="973.5" x2="152.5" y2="973.5" stroke="#a9a9a9" stroke-width="1.25"/>
<line x1="122.0" y1="971.0" x2="122.0" y2="976.0" stroke="#a9a9a9" stroke-width="1.25"/>
<line x1="152.5" y1="971.0" x2="152.5" y2="976.0" stroke="#a9a9a9" stroke-width="1.25"/>
<text x="136.5" y="993.0" font-size="13.8" fill="#262626" text-anchor="middle">0.10</text>
<line x1="467.7" y1="557.3" x2="467.7" y2="614.7" stroke="#505050" stroke-width="1.6"/>
<line x1="463.7" y1="647.3" x2="463.7" y2="744.2" stroke="#505050" stroke-width="1.6"/>
<line x1="532.0" y1="773.8" x2="532.0" y2="795.5" stroke="#505050" stroke-width="1.6"/>
<line x1="532.4" y1="871.0" x2="532.4" y2="894.3" stroke="#505050" stroke-width="1.6"/>
<line x1="577.5" y1="901.6" x2="577.5" y2="950.6" stroke="#505050" stroke-width="1.6"/>
<polygon points="472.7,591.5 476.2,588.9 478.8,587.9 483.3,587.6 486.8,588.7 489.8,589.7 493.8,590.2 496.1,589.2 497.1,585.8 498.3,586.3 499.4,587.6 500.9,585.8 501.9,586.3 502.9,589.5 506.9,588.7 510.4,586.9 512.9,585.3 515.0,585.6 517.5,586.6 521.0,588.2 524.0,589.7 524.0,590.2 522.0,591.0 519.5,592.1 517.0,593.4 513.9,594.6 511.9,596.2 508.9,596.7 505.9,598.3 504.9,602.7 503.4,600.4 500.9,599.8 498.9,600.4 495.8,599.8 493.8,600.9 492.8,602.7 491.8,599.8 488.8,598.8 485.8,598.0 483.8,598.3 483.3,596.7 481.3,595.2 478.8,594.1 476.2,593.1 473.7,592.3" fill="#d99e24" stroke="#d99e24" stroke-width="0.8" stroke-linejoin="round"/>
<polygon points="502.92,618.27 500.39,619.12 499.46,623.40 497.50,631.00 496.28,634.23 497.40,635.37 498.71,633.09 500.68,626.06 501.98,622.92 502.45,628.15 501.89,633.85 501.70,640.50 501.98,649.43 504.51,649.62 504.70,640.50 505.35,635.75 506.00,640.50 506.19,649.62 508.72,649.43 509.00,640.50 508.81,633.85 508.25,628.15 508.72,622.92 510.02,626.06 511.99,633.09 513.30,635.37 514.42,634.23 513.20,631.00 511.24,623.40 510.31,619.12 507.78,618.27 506.47,617.51 504.23,617.51" fill="#d83a2a" stroke="#d83a2a" stroke-width="0.5" stroke-linejoin="round"/>
<ellipse cx="505.44" cy="614.95" rx="1.78" ry="2.85" fill="#d83a2a"/>
<polygon points="467.3,685.6 471.2,682.7 474.0,681.6 479.0,681.3 482.9,682.4 486.2,683.6 490.7,684.2 493.2,683.0 494.2,679.3 495.7,679.9 496.8,681.3 498.4,679.3 499.6,679.9 500.6,683.3 505.1,682.4 509.0,680.4 511.8,678.7 514.0,679.0 516.8,680.1 520.7,681.9 524.0,683.6 524.0,684.2 521.8,685.0 519.0,686.2 516.2,687.6 512.9,689.1 510.7,690.8 507.3,691.4 504.0,693.1 502.9,698.0 501.2,695.4 498.4,694.8 496.2,695.4 492.9,694.8 490.7,696.0 489.5,698.0 488.4,694.8 485.1,693.7 481.8,692.8 479.5,693.1 479.0,691.4 476.8,689.6 474.0,688.5 471.2,687.3 468.4,686.5" fill="#d99e24" stroke="#d99e24" stroke-width="0.8" stroke-linejoin="round"/>
<polygon points="460.1,763.1 464.4,759.4 469.7,753.8 475.6,749.1 482.2,747.5 490.1,747.8 496.7,750.0 504.6,753.8 512.6,756.3 519.2,758.1 523.1,760.0 525.1,763.8 523.1,763.1 517.8,760.6 511.2,760.0 502.0,759.4 495.4,758.1 493.4,759.4 494.7,763.1 496.1,766.3 491.4,766.9 490.1,763.8 488.8,761.9 486.2,761.9 485.5,765.0 483.5,766.3 482.2,765.6 482.9,763.1 480.9,761.9 476.3,762.5 474.9,765.0 474.3,766.9 472.3,766.9 471.6,764.4 469.0,764.4 467.7,763.8 464.4,763.1" fill="#1e9a45" stroke="#1e9a45" stroke-width="0.6" stroke-linejoin="round"/>
<polygon points="536.5,787.3 540.4,784.7 543.2,783.6 548.2,783.4 552.2,784.4 555.5,785.5 560.0,786.0 562.5,785.0 563.6,781.5 565.0,782.1 566.1,783.4 567.8,781.5 568.9,782.1 570.0,785.2 574.5,784.4 578.4,782.6 581.2,781.0 583.5,781.3 586.3,782.3 590.1,783.9 593.5,785.5 593.5,786.0 591.3,786.8 588.5,787.9 585.7,789.2 582.3,790.5 580.1,792.1 576.7,792.6 573.4,794.2 572.2,798.7 570.6,796.3 567.8,795.8 565.6,796.3 562.2,795.8 560.0,796.9 558.8,798.7 557.8,795.8 554.4,794.7 551.0,793.9 548.8,794.2 548.2,792.6 546.0,791.0 543.2,790.0 540.4,788.9 537.6,788.1" fill="#d99e24" stroke="#d99e24" stroke-width="0.8" stroke-linejoin="round"/>
<polygon points="512.3,819.4 516.5,815.7 521.7,810.1 527.5,805.4 533.9,803.8 541.7,804.1 548.1,806.3 555.9,810.1 563.6,812.6 570.1,814.4 574.0,816.3 575.9,820.1 574.0,819.4 568.8,816.9 562.3,816.3 553.3,815.7 546.8,814.4 544.9,815.7 546.2,819.4 547.5,822.6 543.0,823.2 541.7,820.1 540.4,818.2 537.8,818.2 537.2,821.3 535.2,822.6 533.9,821.9 534.6,819.4 532.6,818.2 528.1,818.8 526.8,821.3 526.2,823.2 524.2,823.2 523.6,820.7 521.0,820.7 519.7,820.1 516.5,819.4" fill="#1e9a45" stroke="#1e9a45" stroke-width="0.6" stroke-linejoin="round"/>
<polygon points="463.3,833.7 467.2,831.2 469.9,830.1 474.9,829.9 478.8,830.9 482.0,831.9 486.5,832.4 489.0,831.4 490.0,828.1 491.4,828.6 492.6,829.9 494.2,828.1 495.3,828.6 496.4,831.7 500.9,830.9 504.7,829.1 507.4,827.6 509.7,827.9 512.4,828.9 516.3,830.4 519.6,831.9 519.6,832.4 517.4,833.2 514.6,834.2 511.9,835.5 508.6,836.7 506.4,838.3 503.0,838.8 499.7,840.3 498.6,844.6 497.0,842.3 494.2,841.8 492.0,842.3 488.7,841.8 486.5,842.8 485.4,844.6 484.3,841.8 481.0,840.8 477.7,840.0 475.5,840.3 474.9,838.8 472.7,837.2 469.9,836.2 467.2,835.2 464.4,834.5" fill="#d99e24" stroke="#d99e24" stroke-width="0.8" stroke-linejoin="round"/>
<polygon points="553.45,839.44 551.06,840.29 550.17,844.54 548.32,852.10 547.17,855.31 548.23,856.45 549.47,854.18 551.32,847.19 552.56,844.07 553.01,849.27 552.48,854.94 552.30,861.55 552.56,870.43 554.95,870.62 555.13,861.55 555.75,856.83 556.37,861.55 556.55,870.62 558.94,870.43 559.20,861.55 559.02,854.94 558.49,849.27 558.94,844.07 560.17,847.19 562.03,854.18 563.27,856.45 564.33,855.31 563.18,852.10 561.33,844.54 560.44,840.29 558.05,839.44 556.81,838.68 554.69,838.68" fill="#d83a2a" stroke="#d83a2a" stroke-width="0.5" stroke-linejoin="round"/>
<ellipse cx="555.84" cy="836.13" rx="1.68" ry="2.83" fill="#d83a2a"/>
<polygon points="536.1,883.0 540.0,880.4 542.7,879.3 547.6,879.1 551.5,880.1 554.7,881.2 559.2,881.7 561.6,880.6 562.7,877.2 564.1,877.8 565.2,879.1 566.8,877.2 568.0,877.8 569.0,880.9 573.5,880.1 577.3,878.3 580.0,876.7 582.2,877.0 585.0,878.0 588.8,879.6 592.1,881.2 592.1,881.7 589.9,882.5 587.2,883.5 584.4,884.8 581.1,886.2 578.9,887.7 575.6,888.3 572.3,889.8 571.2,894.3 569.6,891.9 566.8,891.4 564.7,891.9 561.4,891.4 559.2,892.5 558.1,894.3 557.0,891.4 553.7,890.4 550.4,889.6 548.2,889.8 547.6,888.3 545.5,886.7 542.7,885.6 540.0,884.6 537.2,883.8" fill="#d99e24" stroke="#d99e24" stroke-width="0.8" stroke-linejoin="round"/>
<polygon points="588.35,911.71 585.85,912.54 584.92,916.70 582.98,924.10 581.78,927.25 582.89,928.36 584.18,926.13 586.12,919.29 587.42,916.24 587.88,921.33 587.33,926.88 587.14,933.35 587.42,942.05 589.92,942.23 590.10,933.35 590.75,928.73 591.40,933.35 591.58,942.23 594.08,942.05 594.36,933.35 594.17,926.88 593.62,921.33 594.08,916.24 595.38,919.29 597.32,926.13 598.61,928.36 599.72,927.25 598.52,924.10 596.58,916.70 595.65,912.54 593.15,911.71 591.86,910.97 589.64,910.97" fill="#d83a2a" stroke="#d83a2a" stroke-width="0.5" stroke-linejoin="round"/>
<ellipse cx="590.84" cy="908.47" rx="1.76" ry="2.78" fill="#d83a2a"/>
<line x1="900.6" y1="523.0" x2="904.0" y2="523.0" stroke="#a9a9a9" stroke-width="1.25"/>
<line x1="900.6" y1="544.3" x2="910.0" y2="544.3" stroke="#a9a9a9" stroke-width="1.25"/>
<line x1="900.6" y1="523.0" x2="900.6" y2="544.3" stroke="#a9a9a9" stroke-width="1.25"/>
<text x="896.0" y="530.3" font-size="11" fill="#2a2a2a" text-anchor="end">62</text>
<line x1="900.0" y1="533.6" x2="900.6" y2="533.6" stroke="#a9a9a9" stroke-width="1.25"/>
<line x1="900.0" y1="566.3" x2="902.5" y2="566.3" stroke="#a9a9a9" stroke-width="1.25"/>
<line x1="900.0" y1="533.6" x2="900.0" y2="566.3" stroke="#a9a9a9" stroke-width="1.25"/>
<text x="896.0" y="547.0" font-size="11" fill="#2a2a2a" text-anchor="end">100</text>
<line x1="884.7" y1="550.0" x2="900.0" y2="550.0" stroke="#a9a9a9" stroke-width="1.25"/>
<line x1="884.7" y1="587.7" x2="888.0" y2="587.7" stroke="#a9a9a9" stroke-width="1.25"/>
<line x1="884.7" y1="550.0" x2="884.7" y2="587.7" stroke="#a9a9a9" stroke-width="1.25"/>
<text x="881.3" y="565.7" font-size="11" fill="#2a2a2a" text-anchor="end">99</text>
<line x1="872.0" y1="568.8" x2="884.7" y2="568.8" stroke="#a9a9a9" stroke-width="1.25"/>
<line x1="882.4" y1="610.3" x2="886.5" y2="610.3" stroke="#a9a9a9" stroke-width="1.25"/>
<line x1="882.4" y1="629.7" x2="883.0" y2="629.7" stroke="#a9a9a9" stroke-width="1.25"/>
<line x1="882.4" y1="610.3" x2="882.4" y2="629.7" stroke="#a9a9a9" stroke-width="1.25"/>
<text x="880.0" y="632.3" font-size="11" fill="#2a2a2a" text-anchor="end">100</text>
<line x1="872.0" y1="620.0" x2="882.4" y2="620.0" stroke="#a9a9a9" stroke-width="1.25"/>
<line x1="872.0" y1="568.8" x2="872.0" y2="620.0" stroke="#a9a9a9" stroke-width="1.25"/>
<text x="866.0" y="591.0" font-size="11" fill="#2a2a2a" text-anchor="end">89</text>
<line x1="861.3" y1="594.4" x2="872.0" y2="594.4" stroke="#a9a9a9" stroke-width="1.25"/>
<line x1="861.3" y1="652.7" x2="892.0" y2="652.7" stroke="#a9a9a9" stroke-width="1.25"/>
<line x1="861.3" y1="594.4" x2="861.3" y2="652.7" stroke="#a9a9a9" stroke-width="1.25"/>
<text x="855.3" y="619.7" font-size="11" fill="#2a2a2a" text-anchor="end">87</text>
<line x1="851.3" y1="623.6" x2="861.3" y2="623.6" stroke="#a9a9a9" stroke-width="1.25"/>
<line x1="878.7" y1="675.3" x2="884.0" y2="675.3" stroke="#a9a9a9" stroke-width="1.25"/>
<line x1="878.7" y1="696.0" x2="888.0" y2="696.0" stroke="#a9a9a9" stroke-width="1.25"/>
<line x1="878.7" y1="675.3" x2="878.7" y2="696.0" stroke="#a9a9a9" stroke-width="1.25"/>
<text x="876.0" y="682.0" font-size="11" fill="#2a2a2a" text-anchor="end">100</text>
<line x1="860.7" y1="685.6" x2="878.7" y2="685.6" stroke="#a9a9a9" stroke-width="1.25"/>
<line x1="869.3" y1="718.0" x2="880.0" y2="718.0" stroke="#a9a9a9" stroke-width="1.25"/>
<line x1="874.0" y1="740.7" x2="878.7" y2="740.7" stroke="#a9a9a9" stroke-width="1.25"/>
<line x1="874.9" y1="762.0" x2="880.0" y2="762.0" stroke="#a9a9a9" stroke-width="1.25"/>
<line x1="874.9" y1="782.7" x2="879.3" y2="782.7" stroke="#a9a9a9" stroke-width="1.25"/>
<line x1="874.9" y1="762.0" x2="874.9" y2="782.7" stroke="#a9a9a9" stroke-width="1.25"/>
<text x="872.0" y="786.7" font-size="11" fill="#2a2a2a" text-anchor="end">58</text>
<line x1="874.0" y1="772.4" x2="874.9" y2="772.4" stroke="#a9a9a9" stroke-width="1.25"/>
<line x1="874.0" y1="740.7" x2="874.0" y2="772.4" stroke="#a9a9a9" stroke-width="1.25"/>
<text x="872.0" y="767.3" font-size="11" fill="#2a2a2a" text-anchor="end">100</text>
<line x1="869.3" y1="756.5" x2="874.0" y2="756.5" stroke="#a9a9a9" stroke-width="1.25"/>
<line x1="869.3" y1="718.0" x2="869.3" y2="756.5" stroke="#a9a9a9" stroke-width="1.25"/>
<text x="864.0" y="751.3" font-size="11" fill="#2a2a2a" text-anchor="end">99</text>
<line x1="860.7" y1="737.3" x2="869.3" y2="737.3" stroke="#a9a9a9" stroke-width="1.25"/>
<line x1="860.7" y1="685.6" x2="860.7" y2="737.3" stroke="#a9a9a9" stroke-width="1.25"/>
<text x="858.7" y="725.3" font-size="11" fill="#2a2a2a" text-anchor="end">97</text>
<line x1="851.3" y1="711.5" x2="860.7" y2="711.5" stroke="#a9a9a9" stroke-width="1.25"/>
<line x1="851.3" y1="623.6" x2="851.3" y2="711.5" stroke="#a9a9a9" stroke-width="1.25"/>
<text x="846.0" y="662.7" font-size="11" fill="#2a2a2a" text-anchor="end">78</text>
<line x1="843.3" y1="667.5" x2="851.3" y2="667.5" stroke="#a9a9a9" stroke-width="1.25"/>
<line x1="859.1" y1="804.7" x2="868.8" y2="804.7" stroke="#a9a9a9" stroke-width="1.25"/>
<line x1="866.0" y1="827.3" x2="869.3" y2="827.3" stroke="#a9a9a9" stroke-width="1.25"/>
<line x1="866.0" y1="848.7" x2="872.5" y2="848.7" stroke="#a9a9a9" stroke-width="1.25"/>
<line x1="866.0" y1="827.3" x2="866.0" y2="848.7" stroke="#a9a9a9" stroke-width="1.25"/>
<text x="862.3" y="851.7" font-size="11" fill="#2a2a2a" text-anchor="end">91</text>
<line x1="859.1" y1="838.0" x2="866.0" y2="838.0" stroke="#a9a9a9" stroke-width="1.25"/>
<line x1="859.1" y1="804.7" x2="859.1" y2="838.0" stroke="#a9a9a9" stroke-width="1.25"/>
<text x="856.2" y="835.4" font-size="11" fill="#2a2a2a" text-anchor="end">100</text>
<line x1="843.3" y1="821.4" x2="859.1" y2="821.4" stroke="#a9a9a9" stroke-width="1.25"/>
<line x1="843.3" y1="667.5" x2="843.3" y2="821.4" stroke="#a9a9a9" stroke-width="1.25"/>
<text x="836.7" y="740.7" font-size="11" fill="#2a2a2a" text-anchor="end">81</text>
<line x1="832.3" y1="744.4" x2="843.3" y2="744.4" stroke="#a9a9a9" stroke-width="1.25"/>
<line x1="832.3" y1="870.7" x2="857.3" y2="870.7" stroke="#a9a9a9" stroke-width="1.25"/>
<line x1="832.3" y1="744.4" x2="832.3" y2="870.7" stroke="#a9a9a9" stroke-width="1.25"/>
<text x="829.5" y="803.2" font-size="11" fill="#2a2a2a" text-anchor="end">100</text>
<line x1="711.5" y1="807.6" x2="832.3" y2="807.6" stroke="#a9a9a9" stroke-width="1.25"/>
<line x1="711.5" y1="891.8" x2="875.5" y2="891.8" stroke="#a9a9a9" stroke-width="1.25"/>
<line x1="711.5" y1="807.6" x2="711.5" y2="891.8" stroke="#a9a9a9" stroke-width="1.25"/>
<line x1="697.6" y1="849.7" x2="711.5" y2="849.7" stroke="#a9a9a9" stroke-width="1.25"/>
<line x1="728.3" y1="914.5" x2="911.5" y2="914.5" stroke="#a9a9a9" stroke-width="1.25"/>
<line x1="832.5" y1="936.0" x2="873.5" y2="936.0" stroke="#a9a9a9" stroke-width="1.25"/>
<line x1="832.5" y1="957.3" x2="872.5" y2="957.3" stroke="#a9a9a9" stroke-width="1.25"/>
<line x1="832.5" y1="936.0" x2="832.5" y2="957.3" stroke="#a9a9a9" stroke-width="1.25"/>
<text x="830.8" y="959.8" font-size="11" fill="#2a2a2a" text-anchor="end">100</text>
<line x1="728.3" y1="946.6" x2="832.5" y2="946.6" stroke="#a9a9a9" stroke-width="1.25"/>
<line x1="728.3" y1="914.5" x2="728.3" y2="946.6" stroke="#a9a9a9" stroke-width="1.25"/>
<text x="725.0" y="944.4" font-size="11" fill="#2a2a2a" text-anchor="end">98</text>
<line x1="697.6" y1="930.6" x2="728.3" y2="930.6" stroke="#a9a9a9" stroke-width="1.25"/>
<line x1="697.6" y1="849.7" x2="697.6" y2="930.6" stroke="#a9a9a9" stroke-width="1.25"/>
<rect x="904.8" y="515.2" width="131.3" height="16.7" fill="#fcd8d8"/>
<rect x="902.7" y="557.8" width="214.5" height="16.7" fill="#fcd8d8"/>
<rect x="886.2" y="602.8" width="195.9" height="16.7" fill="#b5c7e7"/>
<rect x="885.5" y="667.2" width="120.4" height="16.7" fill="#b5c7e7"/>
<rect x="879.9" y="711.7" width="99.4" height="16.0" fill="#b5c7e7"/>
<rect x="880.2" y="732.8" width="127.4" height="16.7" fill="#b5c7e7"/>
<rect x="880.2" y="753.5" width="103.3" height="16.7" fill="#b5c7e7"/>
<rect x="869.2" y="797.8" width="186.5" height="16.7" fill="#fcd8d8"/>
<rect x="870.8" y="819.2" width="108.7" height="16.7" fill="#fcd8d8"/>
<rect x="872.2" y="840.5" width="146.1" height="16.7" fill="#fcd8d8"/>
<rect x="858.8" y="862.5" width="175.6" height="16.7" fill="#b5c7e7"/>
<text x="907.3" y="528.7" font-size="14" fill="#262626">RaTG13 MN996532</text>
<text x="913.3" y="551.7" font-size="14" fill="#262626">GX-P4L MT040333</text>
<text x="905.2" y="571.3" font-size="14" fill="#262626" font-weight="bold">SARS-CoV-2 WHU01 MN988668</text>
<text x="890.1" y="594.3" font-size="14" fill="#262626">GD/1/2019 EPI_ISL_410721</text>
<text x="888.7" y="616.3" font-size="14" fill="#262626">bat-SL-CoVZXC21 MG772934</text>
<text x="885.3" y="637.4" font-size="14" fill="#262626">bat-SL-CoVZC45 MG772933</text>
<text x="896.6" y="656.9" font-size="14" fill="#d6323c" font-weight="bold" xml:space="preserve">Rc-o319  LC556375</text>
<text x="888.0" y="680.7" font-size="14" fill="#262626">Rf4092 KY417145</text>
<text x="891.0" y="703.3" font-size="14" fill="#262626">16BO133 KY938558</text>
<text x="882.4" y="726.7" font-size="14" fill="#262626">Rf1 DQ412042</text>
<text x="882.7" y="746.3" font-size="14" fill="#262626">HKU3-1 DQ022305</text>
<text x="882.7" y="767.0" font-size="14" fill="#262626">Rp3 DQ071615</text>
<text x="881.3" y="788.3" font-size="14" fill="#262626">Rm1 DQ412043</text>
<text x="871.7" y="811.3" font-size="14" fill="#262626" font-weight="bold">SARS-CoV tor2 NC_004718</text>
<text x="873.3" y="832.7" font-size="14" fill="#262626">WIV1 KF367457</text>
<text x="874.7" y="854.0" font-size="14" fill="#262626">RsSHC014 KC881005</text>
<text x="861.3" y="876.0" font-size="14" fill="#262626">BM48-31/BGR NC_014470</text>
<text x="879.0" y="899.5" font-size="14" fill="#262626">GCCDC1 KU762338</text>
<text x="914.2" y="921.7" font-size="14" fill="#262626">MERS-CoV EMC/2012 JX869059</text>
<text x="876.3" y="942.8" font-size="14" fill="#262626">Human coronavirus OC43 AY391777</text>
<text x="875.2" y="964.5" font-size="14" fill="#262626">Human coronavirus HKU1 MK167038</text>
<text x="708.2" y="800.5" font-size="13.8" fill="#262626" font-style="italic">Sarbecovirus</text>
<text x="714.9" y="886.2" font-size="13.8" fill="#262626" font-style="italic">Nobecovirus</text>
<text x="731.2" y="911.1" font-size="13.8" fill="#262626" font-style="italic">Merbecovirus</text>
<text x="726.6" y="960.7" font-size="13.8" fill="#262626" font-style="italic">Embecovirus</text>
<line x1="708.5" y1="996.5" x2="746.0" y2="996.5" stroke="#a9a9a9" stroke-width="1.25"/>
<line x1="708.5" y1="993.5" x2="708.5" y2="999.5" stroke="#a9a9a9" stroke-width="1.25"/>
<line x1="746.0" y1="993.5" x2="746.0" y2="999.5" stroke="#a9a9a9" stroke-width="1.25"/>
<line x1="1086.4" y1="603.3" x2="1086.4" y2="788.0" stroke="#505050" stroke-width="1.6"/>
<line x1="1047.6" y1="822.4" x2="1047.6" y2="898.1" stroke="#505050" stroke-width="1.6"/>
<line x1="1130.5" y1="908.8" x2="1130.5" y2="964.0" stroke="#505050" stroke-width="1.6"/>
<polygon points="1040.8,522.1 1044.7,519.5 1047.5,518.4 1052.5,518.1 1056.4,519.2 1059.7,520.2 1064.2,520.8 1066.7,519.7 1067.7,516.3 1069.1,516.8 1070.3,518.1 1071.9,516.3 1073.1,516.8 1074.1,520.0 1078.6,519.2 1082.5,517.4 1085.3,515.8 1087.5,516.1 1090.3,517.1 1094.2,518.7 1097.5,520.2 1097.5,520.8 1095.3,521.5 1092.5,522.6 1089.7,523.9 1086.4,525.2 1084.2,526.8 1080.8,527.3 1077.5,528.9 1076.4,533.3 1074.7,531.0 1071.9,530.4 1069.7,531.0 1066.4,530.4 1064.2,531.5 1063.0,533.3 1061.9,530.4 1058.6,529.4 1055.3,528.6 1053.0,528.9 1052.5,527.3 1050.3,525.7 1047.5,524.7 1044.7,523.6 1041.9,522.9" fill="#d99e24" stroke="#d99e24" stroke-width="0.8" stroke-linejoin="round"/>
<polygon points="1045.0,550.5 1048.8,547.0 1053.6,541.8 1058.9,537.5 1064.8,536.1 1071.9,536.4 1077.8,538.4 1085.0,541.8 1092.1,544.1 1098.0,545.9 1101.5,547.6 1103.3,551.0 1101.5,550.5 1096.8,548.2 1090.9,547.6 1082.6,547.0 1076.7,545.9 1074.9,547.0 1076.1,550.5 1077.3,553.3 1073.1,553.9 1071.9,551.0 1070.7,549.3 1068.4,549.3 1067.8,552.2 1066.0,553.3 1064.8,552.8 1065.4,550.5 1063.6,549.3 1059.5,549.9 1058.3,552.2 1057.7,553.9 1055.9,553.9 1055.4,551.6 1053.0,551.6 1051.8,551.0 1048.8,550.5" fill="#1e9a45" stroke="#1e9a45" stroke-width="0.6" stroke-linejoin="round"/>
<polygon points="1129.59,551.99 1127.18,552.83 1126.29,557.05 1124.42,564.55 1123.27,567.74 1124.34,568.86 1125.58,566.61 1127.45,559.67 1128.70,556.58 1129.14,561.74 1128.61,567.36 1128.43,573.92 1128.70,582.74 1131.10,582.92 1131.28,573.92 1131.90,569.24 1132.52,573.92 1132.70,582.92 1135.10,582.74 1135.37,573.92 1135.19,567.36 1134.66,561.74 1135.10,556.58 1136.35,559.67 1138.22,566.61 1139.46,568.86 1140.53,567.74 1139.38,564.55 1137.51,557.05 1136.62,552.83 1134.21,551.99 1132.97,551.24 1130.83,551.24" fill="#d83a2a" stroke="#d83a2a" stroke-width="0.5" stroke-linejoin="round"/>
<ellipse cx="1131.99" cy="548.71" rx="1.69" ry="2.81" fill="#d83a2a"/>
<polygon points="1070.0,595.3 1073.9,591.7 1078.7,586.3 1084.1,581.8 1090.1,580.3 1097.3,580.6 1103.2,582.7 1110.4,586.3 1117.6,588.7 1123.6,590.5 1127.2,592.3 1129.0,595.9 1127.2,595.3 1122.4,592.9 1116.4,592.3 1108.0,591.7 1102.0,590.5 1100.2,591.7 1101.4,595.3 1102.6,598.3 1098.5,598.9 1097.3,595.9 1096.1,594.1 1093.7,594.1 1093.1,597.1 1091.3,598.3 1090.1,597.7 1090.7,595.3 1088.9,594.1 1084.7,594.7 1083.5,597.1 1082.9,598.9 1081.1,598.9 1080.5,596.5 1078.1,596.5 1076.9,595.9 1073.9,595.3" fill="#1e9a45" stroke="#1e9a45" stroke-width="0.6" stroke-linejoin="round"/>
<polygon points="1092.5,698.5 1096.4,695.7 1099.2,694.5 1104.2,694.2 1108.1,695.4 1111.4,696.5 1115.9,697.1 1118.4,696.0 1119.4,692.3 1120.8,692.8 1122.0,694.2 1123.6,692.3 1124.8,692.8 1125.8,696.2 1130.3,695.4 1134.2,693.4 1137.0,691.7 1139.2,692.0 1142.0,693.1 1145.9,694.8 1149.2,696.5 1149.2,697.1 1147.0,697.9 1144.2,699.1 1141.4,700.5 1138.1,701.9 1135.9,703.6 1132.5,704.2 1129.2,705.9 1128.1,710.7 1126.4,708.2 1123.6,707.6 1121.4,708.2 1118.1,707.6 1115.9,708.7 1114.7,710.7 1113.6,707.6 1110.3,706.4 1107.0,705.6 1104.7,705.9 1104.2,704.2 1102.0,702.5 1099.2,701.3 1096.4,700.2 1093.6,699.4" fill="#d99e24" stroke="#d99e24" stroke-width="0.8" stroke-linejoin="round"/>
<polygon points="1068.11,793.07 1065.62,793.90 1064.70,798.04 1062.77,805.40 1061.58,808.53 1062.68,809.63 1063.97,807.42 1065.90,800.62 1067.19,797.58 1067.65,802.64 1067.10,808.16 1066.91,814.60 1067.19,823.25 1069.67,823.43 1069.86,814.60 1070.50,810.00 1071.14,814.60 1071.33,823.43 1073.81,823.25 1074.09,814.60 1073.90,808.16 1073.35,802.64 1073.81,797.58 1075.10,800.62 1077.03,807.42 1078.32,809.63 1079.42,808.53 1078.23,805.40 1076.30,798.04 1075.38,793.90 1072.89,793.07 1071.60,792.34 1069.40,792.34" fill="#d83a2a" stroke="#d83a2a" stroke-width="0.5" stroke-linejoin="round"/>
<ellipse cx="1070.59" cy="789.85" rx="1.75" ry="2.76" fill="#d83a2a"/>
<polygon points="1052.1,856.1 1055.9,853.3 1058.7,852.2 1063.6,851.9 1067.4,853.0 1070.6,854.2 1075.0,854.7 1077.5,853.6 1078.6,850.0 1079.9,850.5 1081.1,851.9 1082.7,850.0 1083.8,850.5 1084.9,853.9 1089.3,853.0 1093.0,851.1 1095.8,849.4 1098.0,849.7 1100.7,850.8 1104.5,852.5 1107.8,854.2 1107.8,854.7 1105.6,855.6 1102.9,856.7 1100.2,858.1 1096.9,859.5 1094.7,861.2 1091.4,861.8 1088.1,863.4 1087.0,868.2 1085.4,865.7 1082.7,865.1 1080.5,865.7 1077.2,865.1 1075.0,866.2 1073.9,868.2 1072.9,865.1 1069.6,864.0 1066.3,863.1 1064.1,863.4 1063.6,861.8 1061.4,860.1 1058.7,858.9 1055.9,857.8 1053.2,857.0" fill="#d99e24" stroke="#d99e24" stroke-width="0.8" stroke-linejoin="round"/>
<polygon points="1143.21,926.09 1140.72,926.92 1139.80,931.07 1137.87,938.45 1136.68,941.59 1137.78,942.69 1139.07,940.48 1141.00,933.65 1142.29,930.61 1142.75,935.68 1142.20,941.22 1142.01,947.67 1142.29,956.35 1144.77,956.53 1144.96,947.67 1145.60,943.06 1146.24,947.67 1146.43,956.53 1148.91,956.35 1149.19,947.67 1149.00,941.22 1148.45,935.68 1148.91,930.61 1150.20,933.65 1152.13,940.48 1153.42,942.69 1154.52,941.59 1153.33,938.45 1151.40,931.07 1150.48,926.92 1147.99,926.09 1146.70,925.35 1144.50,925.35" fill="#d83a2a" stroke="#d83a2a" stroke-width="0.5" stroke-linejoin="round"/>
<ellipse cx="1145.69" cy="922.86" rx="1.75" ry="2.77" fill="#d83a2a"/>
<rect x="13.2" y="1065.3" width="1171.0" height="130.5" fill="#fcd8d8"/>
<rect x="13.2" y="1195.8" width="1171.0" height="140.2" fill="#b5c7e7"/>
<text x="18.6" y="1123.0" font-size="20.5" fill="#111" textLength="105" lengthAdjust="spacingAndGlyphs">Able to use</text>
<text x="18.6" y="1144.2" font-size="20.5" fill="#111" textLength="64" lengthAdjust="spacingAndGlyphs">hACE2</text>
<text x="16.4" y="1260.4" font-size="20.5" fill="#111" textLength="131" lengthAdjust="spacingAndGlyphs">Unable to use</text>
<text x="16.4" y="1280.6" font-size="20.5" fill="#111" textLength="66" lengthAdjust="spacingAndGlyphs">hACE2</text>
<text x="151.5" y="1058.0" font-size="17.6" fill="#5e5e5e" font-family="Liberation Mono" letter-spacing="0.480">Bat Rc-o319</text>
<text x="339.2" y="1058.0" font-size="17.6" fill="#4a4a4a" font-family="Liberation Mono" letter-spacing="0.480">413:</text>
<text x="383.34" y="1058.0" font-size="17.6" font-family="Liberation Mono" fill="#4a4a4a" letter-spacing="0.480">SRNQDASTSGNFNYYYRIWRSEKLRPFERDIAHYDYQVGTQFKS---------SLKNYGFYSSAGDSHQPY</text>
<text x="151.5" y="1080.2" font-size="17.6" fill="#5e5e5e" font-family="Liberation Mono" letter-spacing="0.480">SARS-CoV-2 WHU01</text>
<text x="339.2" y="1080.2" font-size="17.6" fill="#4a4a4a" font-family="Liberation Mono" letter-spacing="0.480">439:</text>
<text x="383.34" y="1080.2" font-size="17.6" font-family="Liberation Mono" fill="#4a4a4a" letter-spacing="0.480">SNNLDSKV<tspan fill="#e0474f">G</tspan>GN<tspan fill="#e0474f">Y</tspan>NYL<tspan fill="#e0474f">Y</tspan>R<tspan fill="#e0474f">LF</tspan>RKSNLKPFERDISTEIYQ<tspan fill="#e0474f">A</tspan>GSTPCNGVEG<tspan fill="#e0474f">FN</tspan>C<tspan fill="#e0474f">Y</tspan>FPL<tspan fill="#e0474f">Q</tspan>SY<tspan fill="#e0474f">G</tspan>F<tspan fill="#e0474f">Q</tspan>P<tspan fill="#e0474f">TNG</tspan>VG<tspan fill="#e0474f">Y</tspan>QPY</text>
<text x="151.5" y="1102.5" font-size="17.6" fill="#5e5e5e" font-family="Liberation Mono" letter-spacing="0.480">Bat RaTG13</text>
<text x="339.2" y="1102.5" font-size="17.6" fill="#4a4a4a" font-family="Liberation Mono" letter-spacing="0.480">439:</text>
<text x="383.34" y="1102.5" font-size="17.6" font-family="Liberation Mono" fill="#4a4a4a" letter-spacing="0.480">SKHIDAKEGGNFNYLYRLFRKANLKPFERDISTEIYQAGSKPCNGQTGLNCYYPLYRYGFYPTDGVGHQPY</text>
<text x="151.5" y="1124.8" font-size="17.6" fill="#5e5e5e" font-family="Liberation Mono" letter-spacing="0.480">SARS-CoV tor2</text>
<text x="339.2" y="1124.8" font-size="17.6" fill="#4a4a4a" font-family="Liberation Mono" letter-spacing="0.480">426:</text>
<text x="383.34" y="1124.8" font-size="17.6" font-family="Liberation Mono" fill="#4a4a4a" letter-spacing="0.480">T<tspan fill="#e0474f">R</tspan>NIDATSTGN<tspan fill="#e0474f">Y</tspan>NYK<tspan fill="#e0474f">Y</tspan>R<tspan fill="#e0474f">YL</tspan>RHGKLRPFERDISNVPFSPDGKPCT-PPA<tspan fill="#e0474f">LN</tspan>C<tspan fill="#e0474f">Y</tspan>WPL<tspan fill="#e0474f">N</tspan>DY<tspan fill="#e0474f">G</tspan>F<tspan fill="#e0474f">Y</tspan>T<tspan fill="#e0474f">TTG</tspan>IG<tspan fill="#e0474f">Y</tspan>QPY</text>
<text x="151.5" y="1147.0" font-size="17.6" fill="#5e5e5e" font-family="Liberation Mono" letter-spacing="0.480">Bat LYRa11</text>
<text x="339.2" y="1147.0" font-size="17.6" fill="#4a4a4a" font-family="Liberation Mono" letter-spacing="0.480">429:</text>
<text x="383.34" y="1147.0" font-size="17.6" font-family="Liberation Mono" fill="#4a4a4a" letter-spacing="0.480">TRNIDATSSGNFNYKYRSLRHGKLRPFERDISNVPFSPDGKPCT-PPAFNCYWPLNDYGFYTTNGIGYQPY</text>
<text x="151.5" y="1169.2" font-size="17.6" fill="#5e5e5e" font-family="Liberation Mono" letter-spacing="0.480">Bat WIV1</text>
<text x="339.2" y="1169.2" font-size="17.6" fill="#4a4a4a" font-family="Liberation Mono" letter-spacing="0.480">427:</text>
<text x="383.34" y="1169.2" font-size="17.6" font-family="Liberation Mono" fill="#4a4a4a" letter-spacing="0.480">TRNIDATQTGNYNYKYRSLRHGKLRPFERDISNVPFSPDGKPCT-PPAFNCYWPLNDYGFYITNGIGYQPY</text>
<text x="151.5" y="1191.5" font-size="17.6" fill="#5e5e5e" font-family="Liberation Mono" letter-spacing="0.480">Bat RsSHC014</text>
<text x="339.2" y="1191.5" font-size="17.6" fill="#4a4a4a" font-family="Liberation Mono" letter-spacing="0.480">426:</text>
<text x="383.34" y="1191.5" font-size="17.6" font-family="Liberation Mono" fill="#4a4a4a" letter-spacing="0.480">TNSKDSSTSGNYNYLYRWVRRSKLNPYERDLSNDIYSPGGQSCS-AVGPNCYNPLRPYGFFTTAGVGHQPY</text>
<text x="151.5" y="1213.8" font-size="17.6" fill="#5e5e5e" font-family="Liberation Mono" letter-spacing="0.480">Bat CoVZXC21</text>
<text x="339.2" y="1213.8" font-size="17.6" fill="#4a4a4a" font-family="Liberation Mono" letter-spacing="0.480">434:</text>
<text x="383.34" y="1213.8" font-size="17.6" font-family="Liberation Mono" fill="#4a4a4a" letter-spacing="0.480">TAKQDTG-----HYFYRSHRSTKLKPFERDLSSDE--------------NGVRTLSTYDFNPNVPLEYQAT</text>
<text x="151.5" y="1236.0" font-size="17.6" fill="#5e5e5e" font-family="Liberation Mono" letter-spacing="0.480">Bat Rp3</text>
<text x="339.2" y="1236.0" font-size="17.6" fill="#4a4a4a" font-family="Liberation Mono" letter-spacing="0.480">430:</text>
<text x="383.34" y="1236.0" font-size="17.6" font-family="Liberation Mono" fill="#4a4a4a" letter-spacing="0.480">TAKQDQG-----QYYYRSHRKTKLKPFERDLSSDE--------------NGVRTLSTYDFYPSVPVAYQAT</text>
<text x="151.5" y="1258.2" font-size="17.6" fill="#5e5e5e" font-family="Liberation Mono" letter-spacing="0.480">Bat HKU3-1</text>
<text x="339.2" y="1258.2" font-size="17.6" fill="#4a4a4a" font-family="Liberation Mono" letter-spacing="0.480">430:</text>
<text x="383.34" y="1258.2" font-size="17.6" font-family="Liberation Mono" fill="#4a4a4a" letter-spacing="0.480">TAKHDTG-----NYYYRSHRKTKLKPFERDLSSDDG-------------NGVYTLSTYDFNPNVPVAYQAT</text>
<text x="151.5" y="1280.5" font-size="17.6" fill="#5e5e5e" font-family="Liberation Mono" letter-spacing="0.480">Bat Rf1</text>
<text x="339.2" y="1280.5" font-size="17.6" fill="#4a4a4a" font-family="Liberation Mono" letter-spacing="0.480">430:</text>
<text x="383.34" y="1280.5" font-size="17.6" font-family="Liberation Mono" fill="#4a4a4a" letter-spacing="0.480">TAKQDVG-----SYFYRSHRSSKLKPFERDLSSEE--------------NGVRTLSTYDFNQNVPLEYQAT</text>
<text x="151.5" y="1302.8" font-size="17.6" fill="#5e5e5e" font-family="Liberation Mono" letter-spacing="0.480">Bat Rf4092</text>
<text x="339.2" y="1302.8" font-size="17.6" fill="#4a4a4a" font-family="Liberation Mono" letter-spacing="0.480">423:</text>
<text x="383.34" y="1302.8" font-size="17.6" font-family="Liberation Mono" fill="#4a4a4a" letter-spacing="0.480">TAKQDVG-----SYFYRSHRSSKLKPFERDLSSDE--------------NGVRTLSTYDFNPNVPLDYQAT</text>
<text x="151.5" y="1325.0" font-size="17.6" fill="#5e5e5e" font-family="Liberation Mono" letter-spacing="0.480">Bat BM48-31</text>
<text x="339.2" y="1325.0" font-size="17.6" fill="#4a4a4a" font-family="Liberation Mono" letter-spacing="0.480">431:</text>
<text x="383.34" y="1325.0" font-size="17.6" font-family="Liberation Mono" fill="#4a4a4a" letter-spacing="0.480">TNSLDSSN----EFFYRRFRHGKIKPYGRDLSNVIFNPSGGTCSAEG-LNCYKPLASYGFTQSSGIGFQPY</text>
<text x="383.3" y="1347.2" font-size="17.6" fill="#222" font-family="Liberation Mono">.</text>
<text x="427.5" y="1347.2" font-size="17.6" fill="#222" font-family="Liberation Mono">*</text>
<text x="526.9" y="1347.2" font-size="17.6" fill="#222" font-family="Liberation Mono">.</text>
<text x="548.9" y="1347.2" font-size="17.6" fill="#222" font-family="Liberation Mono">*</text>
<text x="560.0" y="1347.2" font-size="17.6" fill="#222" font-family="Liberation Mono">*</text>
<text x="571.0" y="1347.2" font-size="17.6" fill="#222" font-family="Liberation Mono">.</text>
<text x="593.1" y="1347.2" font-size="17.6" fill="#222" font-family="Liberation Mono">*</text>
<text x="626.2" y="1347.2" font-size="17.6" fill="#222" font-family="Liberation Mono">.</text>
<text x="637.3" y="1347.2" font-size="17.6" fill="#222" font-family="Liberation Mono">.</text>
<text x="648.3" y="1347.2" font-size="17.6" fill="#222" font-family="Liberation Mono">.</text>
<text x="659.3" y="1347.2" font-size="17.6" fill="#222" font-family="Liberation Mono">*</text>
<text x="670.4" y="1347.2" font-size="17.6" fill="#222" font-family="Liberation Mono">.</text>
<text x="681.4" y="1347.2" font-size="17.6" fill="#222" font-family="Liberation Mono">.</text>
<text x="692.5" y="1347.2" font-size="17.6" fill="#222" font-family="Liberation Mono">*</text>
<text x="703.5" y="1347.2" font-size="17.6" fill="#222" font-family="Liberation Mono">*</text>
<text x="714.5" y="1347.2" font-size="17.6" fill="#222" font-family="Liberation Mono">.</text>
<text x="725.6" y="1347.2" font-size="17.6" fill="#222" font-family="Liberation Mono">.</text>
<text x="924.3" y="1347.2" font-size="17.6" fill="#222" font-family="Liberation Mono">.</text>
<text x="979.5" y="1347.2" font-size="17.6" fill="#222" font-family="Liberation Mono">*</text>
<text x="1012.6" y="1347.2" font-size="17.6" fill="#222" font-family="Liberation Mono">*</text>
<text x="1034.7" y="1347.2" font-size="17.6" fill="#222" font-family="Liberation Mono">*</text>
<text x="1056.8" y="1347.2" font-size="17.6" fill="#222" font-family="Liberation Mono">.</text>
<text x="1123.0" y="1347.2" font-size="17.6" fill="#222" font-family="Liberation Mono">.</text>
<text x="1134.1" y="1347.2" font-size="17.6" fill="#222" font-family="Liberation Mono">*</text>
<circle cx="399.9" cy="1038.8" r="3.4" fill="none" stroke="#cf3340" stroke-width="2.4"/>
<circle cx="477.2" cy="1038.8" r="3.4" fill="none" stroke="#cf3340" stroke-width="2.4"/>
<circle cx="510.3" cy="1038.8" r="3.4" fill="none" stroke="#cf3340" stroke-width="2.4"/>
<circle cx="554.5" cy="1038.8" r="3.4" fill="none" stroke="#cf3340" stroke-width="2.4"/>
<circle cx="576.5" cy="1038.8" r="3.4" fill="none" stroke="#cf3340" stroke-width="2.4"/>
<circle cx="587.6" cy="1038.8" r="3.4" fill="none" stroke="#cf3340" stroke-width="2.4"/>
<circle cx="797.3" cy="1038.8" r="3.4" fill="none" stroke="#cf3340" stroke-width="2.4"/>
<circle cx="918.8" cy="1038.8" r="3.4" fill="none" stroke="#cf3340" stroke-width="2.4"/>
<circle cx="929.8" cy="1038.8" r="3.4" fill="none" stroke="#cf3340" stroke-width="2.4"/>
<circle cx="951.9" cy="1038.8" r="3.4" fill="none" stroke="#cf3340" stroke-width="2.4"/>
<circle cx="996.1" cy="1038.8" r="3.4" fill="none" stroke="#cf3340" stroke-width="2.4"/>
<circle cx="1029.2" cy="1038.8" r="3.4" fill="none" stroke="#cf3340" stroke-width="2.4"/>
<circle cx="1051.3" cy="1038.8" r="3.4" fill="none" stroke="#cf3340" stroke-width="2.4"/>
<circle cx="1073.3" cy="1038.8" r="3.4" fill="none" stroke="#cf3340" stroke-width="2.4"/>
<circle cx="1084.4" cy="1038.8" r="3.4" fill="none" stroke="#cf3340" stroke-width="2.4"/>
<circle cx="1095.4" cy="1038.8" r="3.4" fill="none" stroke="#cf3340" stroke-width="2.4"/>
<circle cx="1128.5" cy="1038.8" r="3.4" fill="none" stroke="#cf3340" stroke-width="2.4"/>
<rect x="449.2" y="1027.5" width="145.2" height="328" fill="none" stroke="#1a1a1a" stroke-width="1.7"/>
<rect x="770.1" y="1027" width="377.3" height="324.5" fill="none" stroke="#1a1a1a" stroke-width="1.7"/>
<text x="487.5" y="1021.2" font-size="18.2" fill="#111">Region 1</text>
<text x="932.1" y="1022.6" font-size="18.2" fill="#111">Region 2</text>
<text transform="translate(19.51,62.90) scale(0.94,1)" font-size="54.9" font-weight="bold" fill="#000">A</text>
<text transform="translate(649.35,59.70) scale(0.816,1)" font-size="55.6" font-weight="bold" fill="#000">B</text>
<text transform="translate(18.56,553.90) scale(0.762,1)" font-size="55.6" font-weight="bold" fill="#000">C</text>
<text transform="translate(650.20,552.25) scale(0.961,1)" font-size="52.9" font-weight="bold" fill="#000">D</text>
<text transform="translate(24.25,1042.75) scale(0.708,1)" font-size="54.4" font-weight="bold" fill="#000">E</text>
</svg></body></html>
